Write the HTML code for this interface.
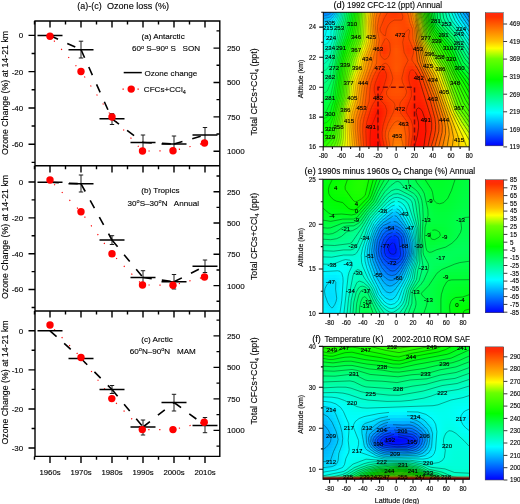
<!DOCTYPE html>
<html><head><meta charset="utf-8"><title>figure</title>
<style>
html,body{margin:0;padding:0;background:#fff}
#w{position:relative;width:520px;height:504px;overflow:hidden;background:#fff;font-family:"Liberation Sans",sans-serif}
.f{position:absolute;overflow:hidden}
.f i{display:block;width:100%}
.cb{position:absolute;background:linear-gradient(180deg,#ff2a10 0%,#ff3000 3%,#ffbf00 21%,#ffff00 26.5%,#6aff00 34.5%,#00ff00 50%,#00ffff 75%,#0000ff 100%)}
svg text{font-family:"Liberation Sans",sans-serif;stroke:#000;stroke-width:.22px;stroke-opacity:.55}
</style></head><body><div id="w">
<div class="f" style="left:323px;top:12px;width:146px;height:135px"><i style="height:3px;background:linear-gradient(90deg,#0080ff,#0089ff,#009eff,#00caff,#00ffe7,#00ff98,#00ff5b,#00ff22,#17ff00,#4bff00,#9fff00,#ffed00,#ffad00,#ff8100,#ff6100,#ff4c00,#ff4100,#ff3900,#ff3700,#ff3f00,#ff4d00,#ff5f00,#ff8800,#ffd200,#98ff00,#44ff00,#0fff00,#00ff2f,#00ff5e,#00ff82,#00ffa6,#00ffc8,#00ffea,#00e7ff,#00c3ff,#00a2ff,#0083ff)"></i><i style="height:3px;background:linear-gradient(90deg,#009bff,#00a2ff,#00b6ff,#00e2ff,#00ffd9,#00ff91,#00ff55,#00ff1a,#1cff00,#4eff00,#a7ff00,#ffe600,#ffa700,#ff7a00,#ff5b00,#ff4600,#ff3f00,#ff3b00,#ff3b00,#ff3f00,#ff4800,#ff5a00,#ff8100,#ffc500,#b7ff00,#4cff00,#15ff00,#00ff29,#00ff5d,#00ff82,#00ffa2,#00ffc1,#00ffe1,#00f3ff,#00d1ff,#00b1ff,#0093ff)"></i><i style="height:3px;background:linear-gradient(90deg,#00b6ff,#00bdff,#00d0ff,#00faff,#00ffc8,#00ff89,#00ff4e,#00ff14,#1fff00,#50ff00,#abff00,#ffe300,#ffa400,#ff7600,#ff5600,#ff4300,#ff4000,#ff4100,#ff4300,#ff4300,#ff4700,#ff5600,#ff7b00,#ffb800,#d5ff00,#55ff00,#1dff00,#00ff20,#00ff58,#00ff7d,#00ff9b,#00ffb8,#00ffd6,#00fffd,#00e1ff,#00c2ff,#00a3ff)"></i><i style="height:3px;background:linear-gradient(90deg,#00ceff,#00d6ff,#00e9ff,#00ffec,#00ffb5,#00ff7d,#00ff46,#00ff0e,#22ff00,#52ff00,#adff00,#ffe200,#ffa200,#ff7300,#ff5200,#ff4100,#ff4200,#ff4700,#ff4a00,#ff4700,#ff4700,#ff5100,#ff7200,#ffac00,#f2ff00,#60ff00,#26ff00,#00ff12,#00ff4c,#00ff72,#00ff90,#00ffac,#00ffc8,#00ffee,#00f1ff,#00d2ff,#00b3ff)"></i><i style="height:3px;background:linear-gradient(90deg,#00e3ff,#00eeff,#00fffd,#00ffd6,#00ffa3,#00ff70,#00ff3d,#00ff07,#26ff00,#54ff00,#aeff00,#ffe300,#ffa200,#ff7100,#ff4e00,#ff4000,#ff4400,#ff4b00,#ff4d00,#ff4a00,#ff4700,#ff4c00,#ff6600,#ff9f00,#fff600,#6aff00,#31ff00,#00ff00,#00ff38,#00ff60,#00ff80,#00ff9c,#00ffb8,#00ffdc,#00fffb,#00e3ff,#00c3ff)"></i><i style="height:3px;background:linear-gradient(90deg,#00efff,#00feff,#00ffeb,#00ffc5,#00ff93,#00ff63,#00ff32,#02ff00,#2aff00,#56ff00,#aeff00,#ffe600,#ffa400,#ff7100,#ff4a00,#ff3f00,#ff4700,#ff4d00,#ff4f00,#ff4b00,#ff4700,#ff4600,#ff5a00,#ff9400,#ffe800,#83ff00,#3cff00,#0eff00,#00ff21,#00ff4a,#00ff6b,#00ff89,#00ffa5,#00ffca,#00ffe9,#00f4ff,#00d3ff)"></i><i style="height:3px;background:linear-gradient(90deg,#00f6ff,#00fffa,#00ffe4,#00ffbd,#00ff8b,#00ff59,#00ff27,#09ff00,#2fff00,#58ff00,#aeff00,#ffe900,#ffa900,#ff7500,#ff4c00,#ff4000,#ff4900,#ff4f00,#ff5000,#ff4c00,#ff4600,#ff4300,#ff5500,#ff8c00,#ffdc00,#99ff00,#47ff00,#1cff00,#00ff0a,#00ff32,#00ff54,#00ff73,#00ff91,#00ffb7,#00ffd7,#00fff9,#00e3ff)"></i><i style="height:3px;background:linear-gradient(90deg,#00faff,#00fff9,#00ffe3,#00ffba,#00ff86,#00ff50,#00ff1d,#10ff00,#35ff00,#5cff00,#b0ff00,#ffec00,#ffae00,#ff7b00,#ff5400,#ff4300,#ff4800,#ff4f00,#ff5100,#ff4b00,#ff4400,#ff4300,#ff5600,#ff8800,#ffd200,#acff00,#51ff00,#2aff00,#0aff00,#00ff19,#00ff3c,#00ff5d,#00ff7c,#00ffa4,#00ffc6,#00ffe9,#00f3ff)"></i><i style="height:3px;background:linear-gradient(90deg,#00feff,#00fff8,#00ffe4,#00ffb6,#00ff7e,#00ff46,#00ff11,#17ff00,#3bff00,#60ff00,#b7ff00,#ffec00,#ffb100,#ff8000,#ff5a00,#ff4500,#ff4700,#ff4d00,#ff4f00,#ff4a00,#ff4300,#ff4300,#ff5700,#ff8400,#ffc700,#c4ff00,#5dff00,#38ff00,#1aff00,#00ff01,#00ff25,#00ff47,#00ff68,#00ff92,#00ffb5,#00ffd8,#00fffa)"></i><i style="height:3px;background:linear-gradient(90deg,#00fff8,#00fff1,#00ffdb,#00ffad,#00ff73,#00ff39,#00ff03,#20ff00,#43ff00,#67ff00,#c4ff00,#ffe700,#ffaf00,#ff8100,#ff5b00,#ff4400,#ff4400,#ff4b00,#ff4e00,#ff4900,#ff4200,#ff4200,#ff5400,#ff7d00,#ffb900,#e8ff00,#6eff00,#48ff00,#2aff00,#0fff00,#00ff0f,#00ff32,#00ff55,#00ff82,#00ffa5,#00ffc8,#00ffe9)"></i><i style="height:3px;background:linear-gradient(90deg,#00ffed,#00ffe7,#00ffd0,#00ffa1,#00ff65,#00ff29,#08ff00,#2aff00,#4bff00,#76ff00,#d6ff00,#ffdd00,#ffaa00,#ff7e00,#ff5900,#ff4000,#ff4100,#ff4a00,#ff4e00,#ff4a00,#ff4100,#ff3f00,#ff4d00,#ff7200,#ffaa00,#fff400,#9aff00,#57ff00,#38ff00,#1dff00,#04ff00,#00ff1e,#00ff42,#00ff71,#00ff95,#00ffb7,#00ffd8)"></i><i style="height:3px;background:linear-gradient(90deg,#00ffe0,#00ffdb,#00ffc5,#00ff94,#00ff55,#00ff19,#12ff00,#34ff00,#55ff00,#8dff00,#ecff00,#ffd100,#ffa200,#ff7a00,#ff5300,#ff3900,#ff3e00,#ff4a00,#ff5100,#ff4c00,#ff4100,#ff3b00,#ff4500,#ff6600,#ff9a00,#ffdd00,#c2ff00,#65ff00,#46ff00,#2aff00,#11ff00,#00ff0b,#00ff31,#00ff5f,#00ff84,#00ffa7,#00ffc8)"></i><i style="height:3px;background:linear-gradient(90deg,#00ffd3,#00ffd0,#00ffba,#00ff89,#00ff48,#00ff0b,#1cff00,#3dff00,#5eff00,#a7ff00,#fffb00,#ffc200,#ff9900,#ff7300,#ff4c00,#ff3300,#ff3c00,#ff4c00,#ff5500,#ff4e00,#ff4200,#ff3800,#ff3e00,#ff5d00,#ff8e00,#ffc900,#e4ff00,#7fff00,#52ff00,#36ff00,#1cff00,#04ff00,#00ff20,#00ff50,#00ff74,#00ff97,#00ffb7)"></i><i style="height:3px;background:linear-gradient(90deg,#00ffcc,#00ffc8,#00ffb1,#00ff7f,#00ff3f,#00ff00,#25ff00,#47ff00,#68ff00,#c2ff00,#ffea00,#ffb600,#ff8f00,#ff6b00,#ff4800,#ff3400,#ff3e00,#ff4d00,#ff5500,#ff5000,#ff4400,#ff3a00,#ff3e00,#ff5900,#ff8600,#ffbb00,#fffe00,#9dff00,#5dff00,#40ff00,#27ff00,#0eff00,#00ff12,#00ff42,#00ff66,#00ff88,#00ffa8)"></i><i style="height:3px;background:linear-gradient(90deg,#00ffc9,#00ffc4,#00ffab,#00ff77,#00ff36,#07ff00,#2eff00,#51ff00,#80ff00,#ddff00,#ffda00,#ffa900,#ff8500,#ff6600,#ff4b00,#ff3c00,#ff4200,#ff4d00,#ff5400,#ff5000,#ff4700,#ff3f00,#ff4200,#ff5900,#ff8000,#ffb100,#ffee00,#baff00,#68ff00,#4bff00,#31ff00,#17ff00,#00ff04,#00ff35,#00ff59,#00ff7a,#00ff98)"></i><i style="height:3px;background:linear-gradient(90deg,#00ffc5,#00ffbd,#00ffa3,#00ff6e,#00ff2c,#10ff00,#38ff00,#5aff00,#98ff00,#f3ff00,#ffcc00,#ff9f00,#ff7e00,#ff6300,#ff4e00,#ff4300,#ff4600,#ff4e00,#ff5300,#ff5100,#ff4900,#ff4300,#ff4500,#ff5800,#ff7b00,#ffa800,#ffde00,#d8ff00,#84ff00,#57ff00,#3cff00,#22ff00,#06ff00,#00ff29,#00ff4d,#00ff6c,#00ff88)"></i><i style="height:3px;background:linear-gradient(90deg,#00ffbd,#00ffb3,#00ff97,#00ff64,#00ff21,#18ff00,#41ff00,#63ff00,#abff00,#fffc00,#ffc200,#ff9900,#ff7900,#ff6200,#ff5100,#ff4600,#ff4800,#ff4f00,#ff5400,#ff5100,#ff4a00,#ff4400,#ff4400,#ff5400,#ff7400,#ff9f00,#ffcf00,#f6ff00,#a8ff00,#65ff00,#49ff00,#2cff00,#0fff00,#00ff1e,#00ff41,#00ff5d,#00ff77)"></i><i style="height:3px;background:linear-gradient(90deg,#00ffb2,#00ffa7,#00ff8c,#00ff5b,#00ff18,#20ff00,#49ff00,#69ff00,#b9ff00,#fff400,#ffbc00,#ff9400,#ff7500,#ff5f00,#ff5000,#ff4300,#ff4600,#ff4f00,#ff5500,#ff5200,#ff4800,#ff3f00,#ff3e00,#ff4c00,#ff6b00,#ff9400,#ffc000,#fff100,#ceff00,#84ff00,#57ff00,#37ff00,#18ff00,#00ff13,#00ff36,#00ff4f,#00ff66)"></i><i style="height:3px;background:linear-gradient(90deg,#00ffa7,#00ff9d,#00ff84,#00ff54,#00ff12,#24ff00,#4eff00,#78ff00,#c8ff00,#ffeb00,#ffb500,#ff8e00,#ff6f00,#ff5800,#ff4900,#ff3900,#ff4100,#ff4e00,#ff5600,#ff5100,#ff4500,#ff3900,#ff3500,#ff4200,#ff5f00,#ff8700,#ffb100,#ffdc00,#f3ff00,#acff00,#64ff00,#43ff00,#22ff00,#00ff07,#00ff29,#00ff41,#00ff55)"></i><i style="height:3px;background:linear-gradient(90deg,#00ff9b,#00ff94,#00ff7d,#00ff4e,#00ff0d,#27ff00,#52ff00,#88ff00,#ddff00,#ffdf00,#ffad00,#ff8600,#ff6600,#ff4d00,#ff3700,#ff2d00,#ff3b00,#ff4b00,#ff5600,#ff4f00,#ff4200,#ff3400,#ff2c00,#ff3700,#ff5200,#ff7700,#ffa000,#ffc600,#fff200,#ccff00,#77ff00,#4dff00,#2cff00,#06ff00,#00ff19,#00ff32,#00ff48)"></i><i style="height:3px;background:linear-gradient(90deg,#00ff90,#00ff8e,#00ff79,#00ff4a,#00ff08,#2bff00,#57ff00,#9cff00,#f6ff00,#ffcf00,#ffa200,#ff7c00,#ff5c00,#ff4100,#ff2c00,#ff2800,#ff3600,#ff4700,#ff5000,#ff4c00,#ff3f00,#ff3000,#ff2800,#ff2f00,#ff4600,#ff6800,#ff9000,#ffb600,#ffe100,#e4ff00,#90ff00,#57ff00,#37ff00,#13ff00,#00ff07,#00ff22,#00ff3a)"></i><i style="height:3px;background:linear-gradient(90deg,#00ff89,#00ff8a,#00ff77,#00ff45,#00ff02,#2fff00,#5dff00,#b3ff00,#fff500,#ffc000,#ff9800,#ff7200,#ff5200,#ff3900,#ff2800,#ff2700,#ff3500,#ff4400,#ff4c00,#ff4900,#ff3d00,#ff2f00,#ff2500,#ff2800,#ff3b00,#ff5b00,#ff8200,#ffa900,#ffd200,#faff00,#a7ff00,#61ff00,#42ff00,#1fff00,#07ff00,#00ff12,#00ff2c)"></i><i style="height:3px;background:linear-gradient(90deg,#00ff87,#00ff84,#00ff6f,#00ff3d,#03ff00,#35ff00,#64ff00,#c9ff00,#ffe700,#ffb500,#ff8e00,#ff6a00,#ff4a00,#ff3300,#ff2600,#ff2900,#ff3500,#ff4300,#ff4a00,#ff4800,#ff3d00,#ff2f00,#ff2500,#ff2400,#ff3300,#ff5000,#ff7500,#ff9d00,#ffc400,#fff500,#bdff00,#6aff00,#4cff00,#2aff00,#12ff00,#00ff03,#00ff1e)"></i><i style="height:3px;background:linear-gradient(90deg,#00ff82,#00ff7c,#00ff64,#00ff35,#08ff00,#39ff00,#6bff00,#daff00,#ffdc00,#ffac00,#ff8500,#ff6200,#ff4400,#ff2e00,#ff2400,#ff2b00,#ff3900,#ff4500,#ff4b00,#ff4900,#ff3f00,#ff3100,#ff2500,#ff2200,#ff2e00,#ff4800,#ff6b00,#ff9100,#ffb800,#ffe800,#d2ff00,#80ff00,#55ff00,#34ff00,#1cff00,#08ff00,#00ff10)"></i><i style="height:3px;background:linear-gradient(90deg,#00ff7c,#00ff73,#00ff5b,#00ff2d,#0cff00,#3dff00,#72ff00,#e4ff00,#ffd400,#ffa500,#ff7f00,#ff5c00,#ff3f00,#ff2b00,#ff2300,#ff2e00,#ff3e00,#ff4900,#ff4e00,#ff4c00,#ff4300,#ff3500,#ff2600,#ff2100,#ff2b00,#ff4100,#ff6000,#ff8500,#ffac00,#ffda00,#e7ff00,#96ff00,#5eff00,#3dff00,#26ff00,#11ff00,#00ff03)"></i><i style="height:3px;background:linear-gradient(90deg,#00ff75,#00ff6c,#00ff53,#00ff26,#10ff00,#3fff00,#75ff00,#e8ff00,#ffcf00,#ffa100,#ff7a00,#ff5800,#ff3d00,#ff2900,#ff2200,#ff3200,#ff4400,#ff4e00,#ff5100,#ff4f00,#ff4800,#ff3900,#ff2800,#ff2000,#ff2700,#ff3b00,#ff5700,#ff7a00,#ffa100,#ffcd00,#fbff00,#aaff00,#66ff00,#45ff00,#2eff00,#19ff00,#06ff00)"></i><i style="height:3px;background:linear-gradient(90deg,#00ff6c,#00ff65,#00ff4e,#00ff21,#13ff00,#41ff00,#79ff00,#ecff00,#ffcc00,#ff9d00,#ff7700,#ff5600,#ff3c00,#ff2a00,#ff2500,#ff3800,#ff4a00,#ff5000,#ff5200,#ff5100,#ff4b00,#ff3d00,#ff2900,#ff2000,#ff2500,#ff3500,#ff4f00,#ff6f00,#ff9600,#ffbf00,#fff400,#bfff00,#72ff00,#4dff00,#35ff00,#21ff00,#0eff00)"></i><i style="height:3px;background:linear-gradient(90deg,#00ff61,#00ff5e,#00ff4a,#00ff1c,#17ff00,#45ff00,#80ff00,#f2ff00,#ffc800,#ff9a00,#ff7400,#ff5400,#ff3c00,#ff2d00,#ff2b00,#ff3b00,#ff4900,#ff4f00,#ff5000,#ff4f00,#ff4900,#ff3c00,#ff2b00,#ff2100,#ff2300,#ff3000,#ff4700,#ff6500,#ff8a00,#ffb400,#ffe600,#d4ff00,#86ff00,#54ff00,#3cff00,#28ff00,#15ff00)"></i><i style="height:3px;background:linear-gradient(90deg,#00ff54,#00ff55,#00ff44,#00ff14,#1cff00,#4aff00,#8dff00,#fcff00,#ffc300,#ff9700,#ff7200,#ff5300,#ff3c00,#ff2f00,#ff2e00,#ff3900,#ff4500,#ff4a00,#ff4c00,#ff4b00,#ff4500,#ff3800,#ff2a00,#ff2000,#ff2100,#ff2c00,#ff4000,#ff5c00,#ff8000,#ffa800,#ffd800,#eaff00,#9aff00,#5aff00,#43ff00,#2fff00,#1dff00)"></i><i style="height:3px;background:linear-gradient(90deg,#00ff47,#00ff48,#00ff36,#00ff09,#24ff00,#52ff00,#a0ff00,#fff700,#ffbc00,#ff9300,#ff6f00,#ff5000,#ff3a00,#ff2e00,#ff2c00,#ff3500,#ff3f00,#ff4500,#ff4700,#ff4600,#ff3f00,#ff3400,#ff2700,#ff1f00,#ff1f00,#ff2800,#ff3a00,#ff5400,#ff7600,#ff9e00,#ffca00,#ffff00,#adff00,#61ff00,#49ff00,#36ff00,#24ff00)"></i><i style="height:3px;background:linear-gradient(90deg,#00ff42,#00ff3e,#00ff29,#03ff00,#2dff00,#5bff00,#b9ff00,#ffea00,#ffb500,#ff8e00,#ff6b00,#ff4d00,#ff3600,#ff2900,#ff2700,#ff2f00,#ff3900,#ff4200,#ff4600,#ff4400,#ff3b00,#ff2f00,#ff2300,#ff1c00,#ff1c00,#ff2400,#ff3400,#ff4d00,#ff6e00,#ff9400,#ffbd00,#fff200,#c1ff00,#67ff00,#50ff00,#3dff00,#2cff00)"></i><i style="height:3px;background:linear-gradient(90deg,#00ff3f,#00ff38,#00ff1f,#0bff00,#36ff00,#66ff00,#d4ff00,#ffdc00,#ffac00,#ff8700,#ff6600,#ff4800,#ff3000,#ff2300,#ff2000,#ff2a00,#ff3500,#ff4000,#ff4600,#ff4400,#ff3800,#ff2b00,#ff2000,#ff1900,#ff1900,#ff2000,#ff3000,#ff4700,#ff6600,#ff8b00,#ffb300,#ffe400,#d6ff00,#75ff00,#57ff00,#45ff00,#35ff00)"></i><i style="height:3px;background:linear-gradient(90deg,#00ff3b,#00ff33,#00ff19,#11ff00,#3eff00,#77ff00,#eeff00,#ffce00,#ffa200,#ff7f00,#ff5f00,#ff4100,#ff2b00,#ff1c00,#ff1a00,#ff2600,#ff3300,#ff4000,#ff4700,#ff4400,#ff3600,#ff2800,#ff1e00,#ff1700,#ff1600,#ff1d00,#ff2b00,#ff4200,#ff5f00,#ff8200,#ffa900,#ffd600,#eeff00,#8eff00,#60ff00,#4eff00,#3dff00)"></i><i style="height:3px;background:linear-gradient(90deg,#00ff35,#00ff2e,#00ff13,#17ff00,#45ff00,#89ff00,#ffff00,#ffc200,#ff9900,#ff7600,#ff5600,#ff3b00,#ff2500,#ff1900,#ff1700,#ff2500,#ff3300,#ff4100,#ff4900,#ff4500,#ff3500,#ff2800,#ff1e00,#ff1600,#ff1400,#ff1a00,#ff2700,#ff3d00,#ff5900,#ff7a00,#ff9f00,#ffc800,#fffa00,#aaff00,#6bff00,#57ff00,#47ff00)"></i><i style="height:3px;background:linear-gradient(90deg,#00ff2a,#00ff23,#00ff09,#1eff00,#4bff00,#96ff00,#fff700,#ffba00,#ff9200,#ff6e00,#ff4f00,#ff3500,#ff2100,#ff1700,#ff1800,#ff2600,#ff3700,#ff4600,#ff4e00,#ff4900,#ff3c00,#ff2d00,#ff2100,#ff1700,#ff1400,#ff1700,#ff2400,#ff3800,#ff5300,#ff7200,#ff9600,#ffbb00,#ffea00,#c7ff00,#88ff00,#62ff00,#50ff00)"></i><i style="height:3px;background:linear-gradient(90deg,#00ff1b,#00ff13,#05ff00,#26ff00,#51ff00,#a2ff00,#fff000,#ffb500,#ff8c00,#ff6800,#ff4900,#ff3000,#ff1e00,#ff1600,#ff1900,#ff2a00,#ff3c00,#ff4c00,#ff5400,#ff5100,#ff4500,#ff3500,#ff2500,#ff1900,#ff1400,#ff1600,#ff2100,#ff3400,#ff4e00,#ff6c00,#ff8e00,#ffb100,#ffdb00,#e2ff00,#a5ff00,#6fff00,#5aff00)"></i><i style="height:3px;background:linear-gradient(90deg,#00ff0b,#00ff03,#0eff00,#2eff00,#57ff00,#acff00,#ffec00,#ffb200,#ff8800,#ff6300,#ff4400,#ff2c00,#ff1b00,#ff1500,#ff1b00,#ff2e00,#ff4100,#ff5200,#ff5b00,#ff5a00,#ff4f00,#ff3d00,#ff2b00,#ff1c00,#ff1400,#ff1500,#ff1f00,#ff3200,#ff4a00,#ff6700,#ff8700,#ffa900,#ffce00,#fbff00,#c0ff00,#8aff00,#64ff00)"></i><i style="height:3px;background:linear-gradient(90deg,#02ff00,#06ff00,#15ff00,#34ff00,#5cff00,#b3ff00,#ffeb00,#ffb100,#ff8600,#ff6100,#ff4100,#ff2800,#ff1800,#ff1400,#ff1c00,#ff3300,#ff4800,#ff5900,#ff6200,#ff6200,#ff5800,#ff4400,#ff2f00,#ff1e00,#ff1400,#ff1400,#ff1e00,#ff3100,#ff4900,#ff6500,#ff8300,#ffa300,#ffc300,#fff300,#d9ff00,#a5ff00,#74ff00)"></i><i style="height:3px;background:linear-gradient(90deg,#06ff00,#09ff00,#18ff00,#37ff00,#5fff00,#b6ff00,#ffeb00,#ffb200,#ff8700,#ff6000,#ff3f00,#ff2600,#ff1600,#ff1100,#ff1c00,#ff3700,#ff4e00,#ff6000,#ff6800,#ff6700,#ff5c00,#ff4800,#ff3100,#ff1e00,#ff1300,#ff1400,#ff1e00,#ff3100,#ff4800,#ff6400,#ff8000,#ff9e00,#ffbb00,#ffe600,#f1ff00,#beff00,#8fff00)"></i><i style="height:3px;background:linear-gradient(90deg,#08ff00,#0cff00,#1bff00,#3aff00,#60ff00,#b6ff00,#ffed00,#ffb400,#ff8800,#ff6100,#ff3f00,#ff2500,#ff1400,#ff1000,#ff1c00,#ff3b00,#ff5500,#ff6600,#ff6d00,#ff6b00,#ff5f00,#ff4a00,#ff3200,#ff1e00,#ff1200,#ff1300,#ff1f00,#ff3200,#ff4a00,#ff6400,#ff8000,#ff9b00,#ffb600,#ffdb00,#fffa00,#d6ff00,#a8ff00)"></i><i style="height:3px;background:linear-gradient(90deg,#0bff00,#11ff00,#21ff00,#3eff00,#61ff00,#b6ff00,#ffef00,#ffb700,#ff8b00,#ff6300,#ff4000,#ff2400,#ff1300,#ff1000,#ff1d00,#ff3e00,#ff5b00,#ff6c00,#ff7000,#ff6e00,#ff6200,#ff4b00,#ff3200,#ff1d00,#ff1100,#ff1300,#ff2000,#ff3400,#ff4d00,#ff6700,#ff8100,#ff9a00,#ffb200,#ffd200,#ffef00,#ecff00,#c0ff00)"></i><i style="height:3px;background:linear-gradient(90deg,#10ff00,#18ff00,#28ff00,#43ff00,#64ff00,#b8ff00,#fff100,#ffba00,#ff8e00,#ff6500,#ff4100,#ff2400,#ff1300,#ff1000,#ff1c00,#ff3d00,#ff5c00,#ff6f00,#ff7300,#ff7100,#ff6400,#ff4b00,#ff3000,#ff1a00,#ff1100,#ff1400,#ff2300,#ff3800,#ff5100,#ff6b00,#ff8400,#ff9b00,#ffb000,#ffcc00,#ffe500,#ffff00,#d6ff00)"></i><i style="height:3px;background:linear-gradient(90deg,#18ff00,#21ff00,#31ff00,#4aff00,#68ff00,#bdff00,#fff200,#ffbd00,#ff9200,#ff6800,#ff4300,#ff2500,#ff1200,#ff0e00,#ff1900,#ff3900,#ff5800,#ff6f00,#ff7800,#ff7600,#ff6600,#ff4a00,#ff2c00,#ff1700,#ff0f00,#ff1500,#ff2600,#ff3d00,#ff5600,#ff7000,#ff8700,#ff9d00,#ffb100,#ffc800,#ffdf00,#fff600,#e8ff00)"></i><i style="height:3px;background:linear-gradient(90deg,#21ff00,#2bff00,#3bff00,#52ff00,#74ff00,#c5ff00,#fff100,#ffc000,#ff9600,#ff6c00,#ff4500,#ff2500,#ff1100,#ff0b00,#ff1500,#ff3400,#ff5300,#ff6f00,#ff7d00,#ff7b00,#ff6800,#ff4800,#ff2800,#ff1400,#ff0e00,#ff1600,#ff2a00,#ff4300,#ff5c00,#ff7500,#ff8c00,#ffa100,#ffb300,#ffc800,#ffdc00,#fff000,#f8ff00)"></i><i style="height:3px;background:linear-gradient(90deg,#2aff00,#35ff00,#45ff00,#5aff00,#85ff00,#d1ff00,#ffef00,#ffc300,#ff9a00,#ff6f00,#ff4700,#ff2700,#ff1200,#ff0900,#ff1100,#ff2f00,#ff4f00,#ff7000,#ff8400,#ff8000,#ff6900,#ff4500,#ff2300,#ff1100,#ff0d00,#ff1800,#ff2e00,#ff4900,#ff6200,#ff7a00,#ff9000,#ffa400,#ffb500,#ffca00,#ffdb00,#ffeb00,#fffb00)"></i></div><div class="f" style="left:323px;top:179px;width:147px;height:134px"><i style="height:3px;background:linear-gradient(90deg,#00ff14,#00ff0c,#00ff03,#03ff00,#06ff00,#0aff00,#10ff00,#16ff00,#1cff00,#20ff00,#20ff00,#18ff00,#0aff00,#00ff0b,#00ff29,#00ff44,#00ff5b,#00ff6e,#00ff7a,#00ff7d,#00ff79,#00ff6d,#00ff5d,#00ff50,#00ff43,#00ff38,#00ff31,#00ff2c,#00ff2a,#00ff29,#00ff29,#00ff2b,#00ff2e,#00ff32,#00ff36,#00ff3a,#00ff3e,#00ff41)"></i><i style="height:3px;background:linear-gradient(90deg,#00ff11,#00ff09,#01ff00,#07ff00,#0aff00,#0dff00,#12ff00,#17ff00,#1dff00,#21ff00,#1fff00,#16ff00,#07ff00,#00ff12,#00ff31,#00ff4d,#00ff65,#00ff77,#00ff82,#00ff83,#00ff7b,#00ff6d,#00ff60,#00ff54,#00ff48,#00ff3d,#00ff34,#00ff2f,#00ff2b,#00ff2a,#00ff2a,#00ff2c,#00ff2f,#00ff33,#00ff37,#00ff3b,#00ff3f,#00ff42)"></i><i style="height:3px;background:linear-gradient(90deg,#00ff0e,#00ff06,#03ff00,#0aff00,#0dff00,#0fff00,#13ff00,#18ff00,#1dff00,#20ff00,#1eff00,#14ff00,#03ff00,#00ff1c,#00ff3c,#00ff59,#00ff71,#00ff82,#00ff8c,#00ff8c,#00ff81,#00ff71,#00ff66,#00ff5c,#00ff50,#00ff43,#00ff39,#00ff31,#00ff2d,#00ff2b,#00ff2b,#00ff2d,#00ff30,#00ff34,#00ff38,#00ff3c,#00ff40,#00ff42)"></i><i style="height:3px;background:linear-gradient(90deg,#00ff0c,#00ff04,#04ff00,#0bff00,#0eff00,#0fff00,#13ff00,#18ff00,#1dff00,#1fff00,#1cff00,#11ff00,#00ff03,#00ff26,#00ff4a,#00ff67,#00ff7e,#00ff8f,#00ff99,#00ff98,#00ff8e,#00ff7e,#00ff73,#00ff67,#00ff59,#00ff4a,#00ff3d,#00ff34,#00ff2f,#00ff2d,#00ff2d,#00ff2e,#00ff31,#00ff35,#00ff39,#00ff3d,#00ff40,#00ff43)"></i><i style="height:3px;background:linear-gradient(90deg,#00ff0b,#00ff04,#03ff00,#09ff00,#0bff00,#0dff00,#11ff00,#16ff00,#1bff00,#1dff00,#1bff00,#0fff00,#00ff09,#00ff31,#00ff57,#00ff75,#00ff8d,#00ff9f,#00ffa9,#00ffa9,#00ff9f,#00ff92,#00ff85,#00ff75,#00ff63,#00ff51,#00ff42,#00ff36,#00ff30,#00ff2e,#00ff2e,#00ff2f,#00ff32,#00ff36,#00ff3a,#00ff3e,#00ff41,#00ff44)"></i><i style="height:3px;background:linear-gradient(90deg,#00ff0c,#00ff05,#01ff00,#05ff00,#08ff00,#09ff00,#0dff00,#13ff00,#18ff00,#1aff00,#17ff00,#0bff00,#00ff12,#00ff3b,#00ff63,#00ff83,#00ff9d,#00ffb1,#00ffbc,#00ffbc,#00ffb3,#00ffa7,#00ff98,#00ff85,#00ff6e,#00ff58,#00ff45,#00ff37,#00ff31,#00ff2f,#00ff2f,#00ff30,#00ff33,#00ff37,#00ff3b,#00ff3f,#00ff43,#00ff45)"></i><i style="height:3px;background:linear-gradient(90deg,#00ff0e,#00ff08,#00ff01,#02ff00,#04ff00,#04ff00,#08ff00,#10ff00,#15ff00,#16ff00,#10ff00,#03ff00,#00ff1f,#00ff48,#00ff70,#00ff92,#00ffaf,#00ffc4,#00ffd1,#00ffd1,#00ffc7,#00ffba,#00ffab,#00ff93,#00ff77,#00ff5d,#00ff47,#00ff38,#00ff31,#00ff30,#00ff30,#00ff32,#00ff34,#00ff38,#00ff3c,#00ff40,#00ff44,#00ff46)"></i><i style="height:3px;background:linear-gradient(90deg,#00ff10,#00ff0b,#00ff05,#00ff01,#00ff00,#01ff00,#05ff00,#0cff00,#11ff00,#10ff00,#06ff00,#00ff0f,#00ff31,#00ff59,#00ff80,#00ffa4,#00ffc1,#00ffd8,#00ffe6,#00ffe5,#00ffd9,#00ffca,#00ffb8,#00ff9d,#00ff7e,#00ff61,#00ff49,#00ff39,#00ff33,#00ff31,#00ff32,#00ff33,#00ff36,#00ff39,#00ff3d,#00ff41,#00ff45,#00ff47)"></i><i style="height:3px;background:linear-gradient(90deg,#00ff14,#00ff0f,#00ff09,#00ff06,#00ff04,#00ff02,#03ff00,#09ff00,#0dff00,#08ff00,#00ff08,#00ff25,#00ff48,#00ff6e,#00ff94,#00ffb7,#00ffd5,#00ffed,#00fff9,#00fff7,#00ffe8,#00ffd5,#00ffbe,#00ffa2,#00ff82,#00ff65,#00ff4d,#00ff3d,#00ff36,#00ff33,#00ff34,#00ff35,#00ff38,#00ff3b,#00ff3f,#00ff43,#00ff46,#00ff48)"></i><i style="height:3px;background:linear-gradient(90deg,#00ff18,#00ff13,#00ff0d,#00ff0a,#00ff08,#00ff06,#00ff01,#04ff00,#06ff00,#00ff02,#00ff1c,#00ff3d,#00ff61,#00ff86,#00ffaa,#00ffcc,#00ffeb,#00fbff,#00efff,#00f5ff,#00fff6,#00ffde,#00ffc3,#00ffa4,#00ff84,#00ff67,#00ff50,#00ff41,#00ff39,#00ff36,#00ff36,#00ff37,#00ff3a,#00ff3d,#00ff41,#00ff44,#00ff47,#00ff49)"></i><i style="height:3px;background:linear-gradient(90deg,#00ff1d,#00ff18,#00ff12,#00ff0f,#00ff0e,#00ff0d,#00ff09,#00ff03,#00ff03,#00ff12,#00ff31,#00ff56,#00ff7c,#00ff9f,#00ffc2,#00ffe2,#00fdff,#00e4ff,#00d7ff,#00e1ff,#00fbff,#00ffe6,#00ffc8,#00ffa7,#00ff85,#00ff68,#00ff52,#00ff43,#00ff3c,#00ff39,#00ff38,#00ff39,#00ff3c,#00ff3f,#00ff43,#00ff46,#00ff49,#00ff4a)"></i><i style="height:3px;background:linear-gradient(90deg,#00ff23,#00ff1d,#00ff18,#00ff16,#00ff17,#00ff17,#00ff14,#00ff11,#00ff13,#00ff24,#00ff46,#00ff70,#00ff96,#00ffb9,#00ffdb,#00fffb,#00e6ff,#00cdff,#00c0ff,#00cdff,#00eeff,#00fff0,#00ffd0,#00ffac,#00ff87,#00ff69,#00ff52,#00ff45,#00ff3e,#00ff3b,#00ff3b,#00ff3c,#00ff3e,#00ff42,#00ff45,#00ff49,#00ff4a,#00ff4b)"></i><i style="height:3px;background:linear-gradient(90deg,#00ff29,#00ff24,#00ff20,#00ff20,#00ff22,#00ff24,#00ff23,#00ff21,#00ff24,#00ff37,#00ff5b,#00ff86,#00ffae,#00ffd2,#00fff4,#00eaff,#00cfff,#00baff,#00b0ff,#00beff,#00deff,#00fffd,#00ffd9,#00ffb3,#00ff8c,#00ff6a,#00ff52,#00ff45,#00ff3f,#00ff3d,#00ff3c,#00ff3d,#00ff40,#00ff44,#00ff48,#00ff4b,#00ff4c,#00ff4c)"></i><i style="height:3px;background:linear-gradient(90deg,#00ff31,#00ff2d,#00ff2b,#00ff2c,#00ff30,#00ff34,#00ff35,#00ff34,#00ff37,#00ff4a,#00ff6e,#00ff99,#00ffc2,#00ffe9,#00f1ff,#00d2ff,#00b9ff,#00a9ff,#00a3ff,#00b0ff,#00ceff,#00f2ff,#00ffe5,#00ffbb,#00ff90,#00ff6a,#00ff4f,#00ff43,#00ff40,#00ff3e,#00ff3d,#00ff3e,#00ff41,#00ff45,#00ff49,#00ff4d,#00ff4d,#00ff4d)"></i><i style="height:3px;background:linear-gradient(90deg,#00ff3a,#00ff37,#00ff37,#00ff3a,#00ff40,#00ff47,#00ff4a,#00ff4a,#00ff4e,#00ff60,#00ff81,#00ffaa,#00ffd4,#00fffe,#00d9ff,#00b9ff,#00a4ff,#0098ff,#0095ff,#00a1ff,#00bcff,#00e2ff,#00fff3,#00ffc6,#00ff95,#00ff69,#00ff4c,#00ff40,#00ff3e,#00ff3e,#00ff3d,#00ff3e,#00ff41,#00ff45,#00ff4a,#00ff4d,#00ff4e,#00ff4e)"></i><i style="height:3px;background:linear-gradient(90deg,#00ff43,#00ff42,#00ff43,#00ff48,#00ff50,#00ff5b,#00ff61,#00ff61,#00ff64,#00ff75,#00ff93,#00ffba,#00ffe6,#00ecff,#00c1ff,#009fff,#008fff,#0087ff,#0083ff,#008eff,#00a9ff,#00d0ff,#00fcff,#00ffd3,#00ff9b,#00ff65,#00ff46,#00ff3c,#00ff3a,#00ff3a,#00ff3b,#00ff3d,#00ff41,#00ff45,#00ff4a,#00ff4d,#00ff4e,#00ff4e)"></i><i style="height:3px;background:linear-gradient(90deg,#00ff4f,#00ff4d,#00ff4e,#00ff55,#00ff5f,#00ff6c,#00ff74,#00ff74,#00ff78,#00ff87,#00ffa3,#00ffc9,#00fff6,#00d9ff,#00acff,#0089ff,#0079ff,#0072ff,#006cff,#0077ff,#0094ff,#00bdff,#00ebff,#00ffe1,#00ffa1,#00ff63,#00ff41,#00ff37,#00ff35,#00ff36,#00ff38,#00ff3b,#00ff40,#00ff45,#00ff49,#00ff4d,#00ff4e,#00ff4f)"></i><i style="height:3px;background:linear-gradient(90deg,#00ff5b,#00ff59,#00ff5a,#00ff60,#00ff6a,#00ff76,#00ff7e,#00ff80,#00ff86,#00ff95,#00ffaf,#00ffd5,#00faff,#00c8ff,#009bff,#0077ff,#0064ff,#0059ff,#0052ff,#005eff,#007dff,#00a9ff,#00daff,#00ffeb,#00ffa4,#00ff64,#00ff40,#00ff34,#00ff32,#00ff33,#00ff35,#00ff39,#00ff3f,#00ff45,#00ff4a,#00ff4d,#00ff4f,#00ff50)"></i><i style="height:3px;background:linear-gradient(90deg,#00ff69,#00ff67,#00ff67,#00ff6c,#00ff74,#00ff7d,#00ff84,#00ff89,#00ff90,#00ff9f,#00ffb8,#00ffde,#00edff,#00b9ff,#008cff,#0068ff,#0051ff,#0042ff,#003bff,#0047ff,#0067ff,#0096ff,#00cdff,#00fff0,#00ffa3,#00ff62,#00ff3f,#00ff32,#00ff30,#00ff32,#00ff34,#00ff39,#00ff3f,#00ff45,#00ff4b,#00ff4e,#00ff50,#00ff51)"></i><i style="height:3px;background:linear-gradient(90deg,#00ff77,#00ff75,#00ff75,#00ff78,#00ff7d,#00ff84,#00ff89,#00ff8e,#00ff97,#00ffa8,#00ffc0,#00ffe8,#00e1ff,#00abff,#007eff,#005bff,#0042ff,#0030ff,#0029ff,#0037ff,#0059ff,#0088ff,#00c0ff,#00fff7,#00ffa3,#00ff60,#00ff3f,#00ff33,#00ff31,#00ff33,#00ff35,#00ff3a,#00ff41,#00ff47,#00ff4c,#00ff50,#00ff52,#00ff52)"></i><i style="height:3px;background:linear-gradient(90deg,#00ff84,#00ff83,#00ff82,#00ff84,#00ff88,#00ff8c,#00ff8f,#00ff94,#00ff9d,#00ffb0,#00ffcc,#00fff4,#00d5ff,#009fff,#0072ff,#0050ff,#0035ff,#0024ff,#0020ff,#0030ff,#0053ff,#0080ff,#00b4ff,#00fbff,#00ffaa,#00ff63,#00ff41,#00ff35,#00ff34,#00ff37,#00ff39,#00ff3e,#00ff45,#00ff4b,#00ff4f,#00ff52,#00ff54,#00ff54)"></i><i style="height:3px;background:linear-gradient(90deg,#00ff92,#00ff90,#00ff8f,#00ff90,#00ff93,#00ff96,#00ff97,#00ff99,#00ffa3,#00ffb9,#00ffd8,#00fdff,#00cbff,#0097ff,#006aff,#0047ff,#002cff,#001cff,#001bff,#002fff,#0053ff,#007bff,#00abff,#00f1ff,#00ffb3,#00ff69,#00ff44,#00ff39,#00ff39,#00ff3d,#00ff40,#00ff44,#00ff4a,#00ff4f,#00ff52,#00ff55,#00ff56,#00ff56)"></i><i style="height:3px;background:linear-gradient(90deg,#00ff9f,#00ff9e,#00ff9c,#00ff9c,#00ff9f,#00ffa1,#00ffa2,#00ffa2,#00ffab,#00ffc2,#00ffe2,#00f4ff,#00c3ff,#0092ff,#0065ff,#0042ff,#0026ff,#0015ff,#0016ff,#002cff,#0050ff,#0076ff,#00a7ff,#00f0ff,#00ffb4,#00ff6b,#00ff47,#00ff3f,#00ff41,#00ff45,#00ff47,#00ff4b,#00ff4f,#00ff53,#00ff56,#00ff57,#00ff58,#00ff58)"></i><i style="height:3px;background:linear-gradient(90deg,#00ffac,#00ffab,#00ffaa,#00ffaa,#00ffac,#00ffaf,#00ffaf,#00ffaf,#00ffb7,#00ffcb,#00ffe9,#00edff,#00bfff,#008fff,#0062ff,#003fff,#0023ff,#0012ff,#0013ff,#0028ff,#0049ff,#006fff,#00a4ff,#00f3ff,#00ffb0,#00ff6a,#00ff4b,#00ff46,#00ff49,#00ff4d,#00ff4f,#00ff51,#00ff54,#00ff57,#00ff58,#00ff58,#00ff58,#00ff59)"></i><i style="height:3px;background:linear-gradient(90deg,#00ffb9,#00ffb8,#00ffb7,#00ffb8,#00ffbb,#00ffbe,#00ffbf,#00ffbf,#00ffc4,#00ffd3,#00ffee,#00eaff,#00beff,#008fff,#0063ff,#0040ff,#0025ff,#0015ff,#0016ff,#0026ff,#0044ff,#006cff,#00a4ff,#00f6ff,#00ffac,#00ff6a,#00ff50,#00ff4d,#00ff51,#00ff55,#00ff57,#00ff57,#00ff57,#00ff58,#00ff58,#00ff58,#00ff57,#00ff57)"></i><i style="height:3px;background:linear-gradient(90deg,#00ffc6,#00ffc5,#00ffc4,#00ffc6,#00ffc9,#00ffcd,#00ffcf,#00ffce,#00ffcf,#00ffd8,#00fff0,#00eaff,#00c0ff,#0093ff,#0068ff,#0046ff,#002dff,#0020ff,#001eff,#0028ff,#0046ff,#0072ff,#00acff,#00fdff,#00ffa9,#00ff6f,#00ff58,#00ff53,#00ff56,#00ff5b,#00ff5d,#00ff5b,#00ff59,#00ff57,#00ff56,#00ff55,#00ff55,#00ff54)"></i><i style="height:3px;background:linear-gradient(90deg,#00ffd1,#00ffd0,#00ffd0,#00ffd2,#00ffd7,#00ffdc,#00ffdf,#00ffdb,#00ffd7,#00ffda,#00ffef,#00edff,#00c4ff,#009aff,#0072ff,#0051ff,#003aff,#002fff,#002bff,#0032ff,#004fff,#0080ff,#00bdff,#00fff5,#00ffa8,#00ff77,#00ff61,#00ff59,#00ff5a,#00ff5f,#00ff60,#00ff5c,#00ff58,#00ff55,#00ff53,#00ff52,#00ff51,#00ff50)"></i><i style="height:3px;background:linear-gradient(90deg,#00ffdb,#00ffdb,#00ffda,#00ffdd,#00ffe3,#00ffea,#00ffee,#00ffe7,#00ffdd,#00ffdb,#00ffed,#00f1ff,#00cbff,#00a3ff,#007dff,#005eff,#004aff,#0041ff,#003dff,#0043ff,#0061ff,#0093ff,#00d1ff,#00ffe7,#00ffa7,#00ff7e,#00ff68,#00ff5e,#00ff5c,#00ff5d,#00ff5d,#00ff59,#00ff55,#00ff51,#00ff4f,#00ff4e,#00ff4d,#00ff4c)"></i><i style="height:3px;background:linear-gradient(90deg,#00ffe6,#00ffe6,#00ffe5,#00ffe7,#00ffed,#00fff4,#00fff7,#00ffed,#00ffde,#00ffda,#00ffe9,#00f7ff,#00d2ff,#00acff,#0089ff,#006cff,#0058ff,#004eff,#004bff,#0056ff,#0076ff,#00a7ff,#00e4ff,#00ffd8,#00ffa3,#00ff81,#00ff6c,#00ff60,#00ff5b,#00ff59,#00ff57,#00ff54,#00ff50,#00ff4d,#00ff4b,#00ff49,#00ff49,#00ff48)"></i><i style="height:3px;background:linear-gradient(90deg,#00fff1,#00fff1,#00fff0,#00fff2,#00fff6,#00fff9,#00fff7,#00ffea,#00ffd9,#00ffd5,#00ffe3,#00feff,#00dbff,#00b7ff,#0095ff,#0079ff,#0065ff,#0058ff,#0056ff,#0067ff,#0089ff,#00baff,#00f7ff,#00ffc8,#00ff9a,#00ff80,#00ff6d,#00ff60,#00ff58,#00ff54,#00ff51,#00ff4d,#00ff4a,#00ff48,#00ff46,#00ff45,#00ff45,#00ff45)"></i><i style="height:3px;background:linear-gradient(90deg,#00fffb,#00fffc,#00fffc,#00fffd,#00fffe,#00fffb,#00fff3,#00ffe3,#00ffd0,#00ffca,#00ffda,#00fff7,#00e4ff,#00c1ff,#00a0ff,#0085ff,#0071ff,#0064ff,#0064ff,#0078ff,#009bff,#00ccff,#00fff7,#00ffbb,#00ff92,#00ff7c,#00ff6b,#00ff5e,#00ff55,#00ff4f,#00ff4b,#00ff47,#00ff44,#00ff42,#00ff41,#00ff41,#00ff41,#00ff41)"></i><i style="height:3px;background:linear-gradient(90deg,#00fbff,#00f9ff,#00f8ff,#00f7ff,#00f9ff,#00fffd,#00ffef,#00ffdc,#00ffc8,#00ffc0,#00ffd0,#00ffed,#00eeff,#00cbff,#00acff,#0092ff,#007fff,#0074ff,#0075ff,#0089ff,#00acff,#00dbff,#00ffec,#00ffb6,#00ff8f,#00ff78,#00ff67,#00ff5a,#00ff51,#00ff49,#00ff45,#00ff40,#00ff3e,#00ff3d,#00ff3d,#00ff3d,#00ff3d,#00ff3e)"></i><i style="height:3px;background:linear-gradient(90deg,#00f5ff,#00f2ff,#00efff,#00eeff,#00f2ff,#00ffff,#00ffed,#00ffd7,#00ffc3,#00ffbc,#00ffc8,#00ffe3,#00f9ff,#00d6ff,#00b8ff,#009fff,#008dff,#0084ff,#0087ff,#0099ff,#00bcff,#00e9ff,#00ffe4,#00ffb3,#00ff8c,#00ff73,#00ff62,#00ff56,#00ff4c,#00ff44,#00ff3f,#00ff3a,#00ff38,#00ff38,#00ff38,#00ff38,#00ff39,#00ff39)"></i><i style="height:3px;background:linear-gradient(90deg,#00f0ff,#00ecff,#00e9ff,#00e8ff,#00edff,#00fdff,#00ffeb,#00ffd5,#00ffc1,#00ffb7,#00ffbf,#00ffd7,#00fff9,#00e2ff,#00c4ff,#00acff,#009bff,#0094ff,#0098ff,#00abff,#00cdff,#00f7ff,#00ffd9,#00ffac,#00ff86,#00ff6d,#00ff5d,#00ff51,#00ff48,#00ff41,#00ff3b,#00ff36,#00ff34,#00ff34,#00ff34,#00ff34,#00ff34,#00ff34)"></i><i style="height:3px;background:linear-gradient(90deg,#00ecff,#00e8ff,#00e5ff,#00e5ff,#00ecff,#00fdff,#00ffea,#00ffd2,#00ffbc,#00ffaf,#00ffb2,#00ffc6,#00ffe9,#00f0ff,#00d0ff,#00b8ff,#00a8ff,#00a3ff,#00a9ff,#00bdff,#00deff,#00fff6,#00ffca,#00ff9e,#00ff7c,#00ff65,#00ff57,#00ff4d,#00ff45,#00ff3e,#00ff39,#00ff34,#00ff31,#00ff30,#00ff2f,#00ff2f,#00ff2f,#00ff2e)"></i><i style="height:3px;background:linear-gradient(90deg,#00e9ff,#00e5ff,#00e2ff,#00e4ff,#00edff,#00ffff,#00ffe8,#00ffcf,#00ffb6,#00ffa4,#00ff9f,#00ffaf,#00ffd4,#00fffe,#00ddff,#00c3ff,#00b4ff,#00b0ff,#00b8ff,#00ceff,#00efff,#00ffe5,#00ffb6,#00ff8b,#00ff6d,#00ff5c,#00ff51,#00ff49,#00ff42,#00ff3b,#00ff37,#00ff32,#00ff2e,#00ff2c,#00ff2b,#00ff2a,#00ff2a,#00ff29)"></i><i style="height:3px;background:linear-gradient(90deg,#00e8ff,#00e4ff,#00e1ff,#00e4ff,#00eeff,#00fffd,#00ffe6,#00ffcb,#00ffaf,#00ff97,#00ff8a,#00ff95,#00ffbd,#00ffee,#00e8ff,#00cdff,#00bfff,#00bcff,#00c5ff,#00dcff,#00feff,#00ffd4,#00ffa3,#00ff76,#00ff5e,#00ff53,#00ff4c,#00ff46,#00ff40,#00ff3a,#00ff35,#00ff30,#00ff2c,#00ff29,#00ff27,#00ff26,#00ff25,#00ff24)"></i><i style="height:3px;background:linear-gradient(90deg,#00e7ff,#00e3ff,#00e0ff,#00e3ff,#00efff,#00fffc,#00ffe3,#00ffc7,#00ffa7,#00ff8b,#00ff78,#00ff7f,#00ffaa,#00ffe0,#00f1ff,#00d7ff,#00c9ff,#00c7ff,#00d1ff,#00e8ff,#00fff4,#00ffc7,#00ff94,#00ff67,#00ff52,#00ff4d,#00ff49,#00ff45,#00ff3f,#00ff38,#00ff34,#00ff2e,#00ff29,#00ff25,#00ff23,#00ff22,#00ff20,#00ff1f)"></i><i style="height:3px;background:linear-gradient(90deg,#00e8ff,#00e3ff,#00deff,#00e1ff,#00eeff,#00fffb,#00ffe0,#00ffc1,#00ffa0,#00ff82,#00ff6e,#00ff73,#00ff9a,#00ffd1,#00fdff,#00e2ff,#00d4ff,#00d1ff,#00dbff,#00f1ff,#00ffeb,#00ffbe,#00ff8e,#00ff64,#00ff51,#00ff4b,#00ff49,#00ff45,#00ff3f,#00ff38,#00ff32,#00ff2b,#00ff25,#00ff21,#00ff1f,#00ff1e,#00ff1c,#00ff1a)"></i><i style="height:3px;background:linear-gradient(90deg,#00ebff,#00e3ff,#00ddff,#00e0ff,#00edff,#00fffa,#00ffdd,#00ffbc,#00ff9a,#00ff7b,#00ff67,#00ff6a,#00ff8b,#00ffbe,#00ffee,#00f1ff,#00e0ff,#00dcff,#00e4ff,#00f8ff,#00ffe4,#00ffb8,#00ff8c,#00ff69,#00ff55,#00ff4e,#00ff4b,#00ff46,#00ff3f,#00ff38,#00ff32,#00ff29,#00ff22,#00ff1c,#00ff19,#00ff19,#00ff17,#00ff15)"></i><i style="height:3px;background:linear-gradient(90deg,#00edff,#00e6ff,#00dfff,#00e1ff,#00eeff,#00fff9,#00ffda,#00ffb7,#00ff94,#00ff75,#00ff60,#00ff5e,#00ff7c,#00ffaa,#00ffd8,#00fffc,#00edff,#00e8ff,#00efff,#00fffc,#00ffdc,#00ffb3,#00ff8c,#00ff6c,#00ff59,#00ff50,#00ff4d,#00ff48,#00ff40,#00ff38,#00ff31,#00ff27,#00ff1e,#00ff16,#00ff12,#00ff13,#00ff12,#00ff10)"></i><i style="height:3px;background:linear-gradient(90deg,#00f0ff,#00e8ff,#00e2ff,#00e4ff,#00f1ff,#00fff6,#00ffd7,#00ffb4,#00ff90,#00ff71,#00ff5a,#00ff56,#00ff6f,#00ff98,#00ffc3,#00ffe8,#00feff,#00f7ff,#00feff,#00ffee,#00ffcf,#00ffab,#00ff88,#00ff6d,#00ff5b,#00ff52,#00ff4d,#00ff48,#00ff41,#00ff38,#00ff31,#00ff26,#00ff1b,#00ff10,#00ff0a,#00ff0b,#00ff0b,#00ff0a)"></i><i style="height:3px;background:linear-gradient(90deg,#00f3ff,#00ebff,#00e5ff,#00e7ff,#00f4ff,#00fff3,#00ffd4,#00ffb1,#00ff8d,#00ff6d,#00ff57,#00ff53,#00ff66,#00ff89,#00ffaf,#00ffd2,#00ffea,#00fff5,#00ffef,#00ffdc,#00ffc0,#00ffa1,#00ff82,#00ff6b,#00ff5b,#00ff52,#00ff4c,#00ff47,#00ff41,#00ff39,#00ff31,#00ff26,#00ff19,#00ff0d,#00ff05,#00ff05,#00ff05,#00ff04)"></i><i style="height:3px;background:linear-gradient(90deg,#00f7ff,#00efff,#00e7ff,#00e9ff,#00f6ff,#00fff1,#00ffd2,#00ffaf,#00ff8b,#00ff6b,#00ff56,#00ff50,#00ff5f,#00ff7b,#00ff9d,#00ffbd,#00ffd4,#00ffe0,#00ffdb,#00ffca,#00ffb1,#00ff95,#00ff7a,#00ff66,#00ff59,#00ff50,#00ff4b,#00ff46,#00ff41,#00ff39,#00ff31,#00ff26,#00ff1a,#00ff0d,#00ff05,#00ff02,#00ff01,#00ff00)"></i><i style="height:2px;background:linear-gradient(90deg,#00fdff,#00f3ff,#00e9ff,#00ebff,#00f9ff,#00ffef,#00ffd0,#00ffad,#00ff8a,#00ff6a,#00ff55,#00ff4e,#00ff5a,#00ff72,#00ff90,#00ffac,#00ffc1,#00ffcc,#00ffc9,#00ffba,#00ffa4,#00ff8b,#00ff73,#00ff61,#00ff56,#00ff4e,#00ff4a,#00ff46,#00ff41,#00ff39,#00ff31,#00ff27,#00ff1b,#00ff0f,#00ff06,#00ff01,#01ff00,#03ff00)"></i></div><div class="f" style="left:323px;top:346px;width:147px;height:133px"><i style="height:3px;background:linear-gradient(90deg,#22ff00,#27ff00,#28ff00,#22ff00,#19ff00,#14ff00,#11ff00,#10ff00,#11ff00,#14ff00,#17ff00,#1cff00,#1fff00,#23ff00,#27ff00,#2bff00,#2eff00,#31ff00,#33ff00,#35ff00,#35ff00,#33ff00,#30ff00,#2cff00,#28ff00,#24ff00,#21ff00,#1dff00,#18ff00,#12ff00,#0cff00,#06ff00,#00ff01,#00ff0b,#00ff13,#00ff1a,#00ff22,#00ff29)"></i><i style="height:3px;background:linear-gradient(90deg,#16ff00,#1bff00,#1eff00,#18ff00,#10ff00,#0aff00,#06ff00,#06ff00,#07ff00,#0aff00,#0eff00,#12ff00,#15ff00,#18ff00,#1cff00,#1fff00,#23ff00,#26ff00,#29ff00,#2aff00,#29ff00,#26ff00,#22ff00,#1dff00,#1aff00,#16ff00,#13ff00,#10ff00,#0bff00,#07ff00,#02ff00,#00ff05,#00ff0e,#00ff17,#00ff1f,#00ff27,#00ff2f,#00ff35)"></i><i style="height:3px;background:linear-gradient(90deg,#08ff00,#0dff00,#0fff00,#0cff00,#05ff00,#00ff02,#00ff06,#00ff07,#00ff04,#00ff00,#04ff00,#08ff00,#0aff00,#0dff00,#10ff00,#13ff00,#17ff00,#1aff00,#1eff00,#1fff00,#1dff00,#19ff00,#13ff00,#0eff00,#0bff00,#08ff00,#05ff00,#01ff00,#00ff03,#00ff09,#00ff0e,#00ff14,#00ff1a,#00ff23,#00ff2b,#00ff33,#00ff3b,#00ff41)"></i><i style="height:3px;background:linear-gradient(90deg,#00ff0b,#00ff05,#00ff01,#00ff05,#00ff0c,#00ff13,#00ff17,#00ff17,#00ff14,#00ff0f,#00ff0a,#00ff05,#00ff02,#01ff00,#03ff00,#07ff00,#0aff00,#0eff00,#12ff00,#13ff00,#11ff00,#0bff00,#04ff00,#00ff01,#00ff05,#00ff09,#00ff0d,#00ff13,#00ff17,#00ff1b,#00ff20,#00ff24,#00ff28,#00ff30,#00ff38,#00ff40,#00ff48,#00ff4e)"></i><i style="height:3px;background:linear-gradient(90deg,#00ff22,#00ff1d,#00ff1a,#00ff1c,#00ff21,#00ff26,#00ff29,#00ff28,#00ff25,#00ff20,#00ff1b,#00ff17,#00ff14,#00ff11,#00ff0e,#00ff0a,#00ff04,#01ff00,#05ff00,#06ff00,#04ff00,#00ff03,#00ff0e,#00ff14,#00ff18,#00ff1c,#00ff20,#00ff25,#00ff29,#00ff2d,#00ff31,#00ff35,#00ff38,#00ff3e,#00ff46,#00ff4d,#00ff55,#00ff5b)"></i><i style="height:3px;background:linear-gradient(90deg,#00ff37,#00ff33,#00ff30,#00ff31,#00ff35,#00ff39,#00ff3b,#00ff3b,#00ff37,#00ff32,#00ff2d,#00ff29,#00ff26,#00ff24,#00ff22,#00ff1e,#00ff18,#00ff12,#00ff0e,#00ff0c,#00ff0f,#00ff17,#00ff1f,#00ff26,#00ff2a,#00ff2d,#00ff31,#00ff36,#00ff3a,#00ff3e,#00ff43,#00ff46,#00ff49,#00ff4d,#00ff54,#00ff5b,#00ff63,#00ff68)"></i><i style="height:3px;background:linear-gradient(90deg,#00ff49,#00ff46,#00ff45,#00ff45,#00ff48,#00ff4b,#00ff4d,#00ff4d,#00ff4a,#00ff45,#00ff3f,#00ff3b,#00ff38,#00ff36,#00ff34,#00ff31,#00ff2c,#00ff26,#00ff22,#00ff22,#00ff24,#00ff2a,#00ff31,#00ff36,#00ff3a,#00ff3d,#00ff40,#00ff45,#00ff4a,#00ff4e,#00ff53,#00ff56,#00ff59,#00ff5d,#00ff62,#00ff69,#00ff70,#00ff76)"></i><i style="height:3px;background:linear-gradient(90deg,#00ff5a,#00ff58,#00ff57,#00ff57,#00ff5a,#00ff5d,#00ff5f,#00ff60,#00ff5d,#00ff57,#00ff51,#00ff4c,#00ff49,#00ff47,#00ff46,#00ff43,#00ff3e,#00ff3a,#00ff36,#00ff36,#00ff38,#00ff3d,#00ff42,#00ff46,#00ff49,#00ff4b,#00ff4e,#00ff53,#00ff58,#00ff5d,#00ff62,#00ff65,#00ff68,#00ff6b,#00ff70,#00ff77,#00ff7e,#00ff83)"></i><i style="height:3px;background:linear-gradient(90deg,#00ff6a,#00ff68,#00ff68,#00ff68,#00ff6a,#00ff6d,#00ff70,#00ff71,#00ff6f,#00ff68,#00ff61,#00ff5b,#00ff58,#00ff56,#00ff55,#00ff53,#00ff50,#00ff4c,#00ff49,#00ff49,#00ff4b,#00ff4f,#00ff53,#00ff56,#00ff58,#00ff59,#00ff5c,#00ff61,#00ff66,#00ff6c,#00ff70,#00ff73,#00ff76,#00ff79,#00ff7e,#00ff84,#00ff8b,#00ff90)"></i><i style="height:3px;background:linear-gradient(90deg,#00ff78,#00ff77,#00ff77,#00ff77,#00ff79,#00ff7c,#00ff7f,#00ff80,#00ff7e,#00ff77,#00ff6f,#00ff69,#00ff66,#00ff65,#00ff64,#00ff62,#00ff5f,#00ff5c,#00ff5a,#00ff5a,#00ff5c,#00ff60,#00ff64,#00ff66,#00ff67,#00ff67,#00ff69,#00ff6f,#00ff75,#00ff7a,#00ff7f,#00ff82,#00ff84,#00ff87,#00ff8b,#00ff92,#00ff98,#00ff9e)"></i><i style="height:3px;background:linear-gradient(90deg,#00ff86,#00ff85,#00ff85,#00ff85,#00ff87,#00ff89,#00ff8c,#00ff8c,#00ff89,#00ff82,#00ff7a,#00ff75,#00ff72,#00ff71,#00ff71,#00ff70,#00ff6e,#00ff6b,#00ff69,#00ff69,#00ff6c,#00ff70,#00ff73,#00ff75,#00ff75,#00ff76,#00ff78,#00ff7d,#00ff83,#00ff89,#00ff8d,#00ff90,#00ff92,#00ff94,#00ff99,#00ff9f,#00ffa5,#00ffaa)"></i><i style="height:3px;background:linear-gradient(90deg,#00ff93,#00ff92,#00ff93,#00ff93,#00ff94,#00ff96,#00ff98,#00ff97,#00ff93,#00ff8c,#00ff85,#00ff80,#00ff7e,#00ff7e,#00ff7d,#00ff7d,#00ff7b,#00ff78,#00ff77,#00ff77,#00ff7a,#00ff7e,#00ff82,#00ff83,#00ff84,#00ff85,#00ff87,#00ff8c,#00ff91,#00ff97,#00ff9b,#00ff9e,#00ffa0,#00ffa2,#00ffa6,#00ffac,#00ffb2,#00ffb7)"></i><i style="height:3px;background:linear-gradient(90deg,#00ff9f,#00ff9f,#00ffa0,#00ffa1,#00ffa2,#00ffa3,#00ffa3,#00ffa2,#00ff9d,#00ff96,#00ff8f,#00ff8a,#00ff8a,#00ff89,#00ff89,#00ff88,#00ff87,#00ff84,#00ff83,#00ff83,#00ff86,#00ff8a,#00ff8e,#00ff90,#00ff91,#00ff93,#00ff95,#00ff9a,#00ff9f,#00ffa5,#00ffa9,#00ffac,#00ffae,#00ffb0,#00ffb4,#00ffb9,#00ffbe,#00ffc2)"></i><i style="height:3px;background:linear-gradient(90deg,#00ffac,#00ffad,#00ffae,#00ffaf,#00ffb0,#00ffb0,#00ffaf,#00ffac,#00ffa8,#00ffa1,#00ff9a,#00ff97,#00ff96,#00ff95,#00ff95,#00ff94,#00ff92,#00ff90,#00ff8f,#00ff8f,#00ff91,#00ff95,#00ff99,#00ff9b,#00ff9d,#00ffa0,#00ffa3,#00ffa7,#00ffad,#00ffb2,#00ffb6,#00ffb9,#00ffbb,#00ffbd,#00ffc0,#00ffc5,#00ffca,#00ffcd)"></i><i style="height:3px;background:linear-gradient(90deg,#00ffba,#00ffbb,#00ffbd,#00ffbe,#00ffbe,#00ffbd,#00ffbb,#00ffb7,#00ffb2,#00ffac,#00ffa7,#00ffa4,#00ffa3,#00ffa2,#00ffa1,#00ff9f,#00ff9d,#00ff9c,#00ff9a,#00ff9a,#00ff9d,#00ffa0,#00ffa4,#00ffa6,#00ffa9,#00ffac,#00ffaf,#00ffb4,#00ffb9,#00ffbe,#00ffc3,#00ffc6,#00ffc7,#00ffc9,#00ffcc,#00ffd0,#00ffd4,#00ffd7)"></i><i style="height:3px;background:linear-gradient(90deg,#00ffcb,#00ffcb,#00ffcc,#00ffcd,#00ffcc,#00ffca,#00ffc7,#00ffc2,#00ffbd,#00ffb8,#00ffb3,#00ffb1,#00ffaf,#00ffae,#00ffac,#00ffab,#00ffa9,#00ffa7,#00ffa7,#00ffa7,#00ffa8,#00ffab,#00ffae,#00ffb1,#00ffb4,#00ffb7,#00ffbb,#00ffbf,#00ffc4,#00ffc9,#00ffce,#00ffd0,#00ffd2,#00ffd4,#00ffd6,#00ffd9,#00ffdc,#00ffdf)"></i><i style="height:3px;background:linear-gradient(90deg,#00ffdd,#00ffdd,#00ffdd,#00ffdc,#00ffd9,#00ffd6,#00ffd2,#00ffcd,#00ffc8,#00ffc3,#00ffbf,#00ffbc,#00ffbb,#00ffb9,#00ffb8,#00ffb6,#00ffb5,#00ffb4,#00ffb3,#00ffb3,#00ffb5,#00ffb7,#00ffb9,#00ffbc,#00ffbf,#00ffc2,#00ffc5,#00ffc9,#00ffce,#00ffd2,#00ffd7,#00ffd9,#00ffdb,#00ffdd,#00ffde,#00ffe0,#00ffe3,#00ffe5)"></i><i style="height:3px;background:linear-gradient(90deg,#00ffef,#00ffee,#00ffec,#00ffea,#00ffe6,#00ffe1,#00ffdc,#00ffd7,#00ffd2,#00ffcd,#00ffca,#00ffc7,#00ffc6,#00ffc4,#00ffc3,#00ffc2,#00ffc1,#00ffc0,#00ffc0,#00ffc0,#00ffc1,#00ffc2,#00ffc5,#00ffc7,#00ffc9,#00ffcc,#00ffcf,#00ffd2,#00ffd6,#00ffda,#00ffdd,#00ffe0,#00ffe2,#00ffe4,#00ffe5,#00ffe7,#00ffe9,#00ffeb)"></i><i style="height:3px;background:linear-gradient(90deg,#00feff,#00fffe,#00fffc,#00fff7,#00fff1,#00ffeb,#00ffe5,#00ffe0,#00ffdb,#00ffd6,#00ffd3,#00ffd1,#00ffd0,#00ffcf,#00ffce,#00ffcd,#00ffcd,#00ffcc,#00ffcd,#00ffcd,#00ffcd,#00ffcf,#00ffd0,#00ffd2,#00ffd4,#00ffd6,#00ffd8,#00ffda,#00ffdd,#00ffe0,#00ffe3,#00ffe5,#00ffe7,#00ffea,#00ffeb,#00ffec,#00ffee,#00ffef)"></i><i style="height:3px;background:linear-gradient(90deg,#00efff,#00f1ff,#00f5ff,#00fbff,#00fffb,#00fff3,#00ffed,#00ffe7,#00ffe3,#00ffdf,#00ffdc,#00ffda,#00ffda,#00ffda,#00ffd9,#00ffd9,#00ffd9,#00ffd9,#00ffda,#00ffda,#00ffda,#00ffdb,#00ffdc,#00ffde,#00ffdf,#00ffe0,#00ffe1,#00ffe2,#00ffe3,#00ffe5,#00ffe7,#00ffe9,#00ffeb,#00ffee,#00fff0,#00fff1,#00fff3,#00fff4)"></i><i style="height:3px;background:linear-gradient(90deg,#00e1ff,#00e4ff,#00e9ff,#00f1ff,#00fbff,#00fffa,#00fff2,#00ffed,#00ffe9,#00ffe6,#00ffe4,#00ffe4,#00ffe4,#00ffe4,#00ffe5,#00ffe5,#00ffe6,#00ffe6,#00ffe7,#00ffe8,#00ffe8,#00ffe9,#00ffea,#00ffeb,#00ffeb,#00ffeb,#00ffea,#00ffe9,#00ffe9,#00ffe9,#00ffea,#00ffec,#00ffee,#00fff1,#00fff4,#00fff6,#00fff9,#00fffb)"></i><i style="height:3px;background:linear-gradient(90deg,#00d6ff,#00daff,#00e0ff,#00eaff,#00f5ff,#00ffff,#00fff7,#00fff2,#00ffef,#00ffed,#00ffec,#00ffed,#00ffee,#00fff0,#00fff1,#00fff3,#00fff4,#00fff5,#00fff6,#00fff7,#00fff8,#00fff8,#00fff9,#00fff9,#00fff8,#00fff6,#00fff3,#00fff0,#00ffee,#00ffed,#00ffed,#00ffee,#00fff0,#00fff3,#00fff7,#00fffb,#00ffff,#00fcff)"></i><i style="height:3px;background:linear-gradient(90deg,#00cdff,#00d2ff,#00d9ff,#00e4ff,#00f0ff,#00fcff,#00fffa,#00fff5,#00fff4,#00fff4,#00fff5,#00fff6,#00fff9,#00fffc,#00ffff,#00fdff,#00faff,#00f8ff,#00f7ff,#00f7ff,#00f5ff,#00f4ff,#00f4ff,#00f4ff,#00f7ff,#00fcff,#00fffc,#00fff7,#00fff3,#00fff0,#00ffef,#00ffef,#00fff1,#00fff4,#00fff9,#00ffff,#00f9ff,#00f5ff)"></i><i style="height:3px;background:linear-gradient(90deg,#00c5ff,#00cbff,#00d3ff,#00dfff,#00ecff,#00f8ff,#00fffd,#00fff9,#00fff8,#00fffa,#00fffe,#00fdff,#00faff,#00f5ff,#00f0ff,#00ebff,#00e6ff,#00e3ff,#00e3ff,#00e4ff,#00e1ff,#00dfff,#00dfff,#00e1ff,#00e7ff,#00efff,#00f8ff,#00fffe,#00fff8,#00fff3,#00fff0,#00ffef,#00fff1,#00fff4,#00fffa,#00fdff,#00f5ff,#00f0ff)"></i><i style="height:3px;background:linear-gradient(90deg,#00beff,#00c4ff,#00ceff,#00daff,#00e8ff,#00f5ff,#00ffff,#00fffb,#00fffc,#00fdff,#00f7ff,#00f2ff,#00eeff,#00e8ff,#00dfff,#00d5ff,#00cfff,#00cbff,#00cbff,#00cbff,#00c9ff,#00c7ff,#00c7ff,#00ccff,#00d6ff,#00e2ff,#00eeff,#00f9ff,#00fffc,#00fff5,#00fff0,#00ffee,#00ffef,#00fff3,#00fff9,#00fdff,#00f3ff,#00edff)"></i><i style="height:3px;background:linear-gradient(90deg,#00b7ff,#00beff,#00c8ff,#00d5ff,#00e4ff,#00f2ff,#00fdff,#00fffd,#00ffff,#00f7ff,#00edff,#00e6ff,#00e2ff,#00daff,#00ccff,#00bdff,#00b4ff,#00afff,#00aeff,#00afff,#00afff,#00aeff,#00adff,#00b5ff,#00c3ff,#00d3ff,#00e3ff,#00f1ff,#00fdff,#00fff7,#00fff0,#00ffed,#00ffed,#00fff1,#00fff7,#00feff,#00f5ff,#00efff)"></i><i style="height:3px;background:linear-gradient(90deg,#00b0ff,#00b8ff,#00c3ff,#00d1ff,#00e0ff,#00f0ff,#00fcff,#00fffe,#00fdff,#00f3ff,#00e5ff,#00d9ff,#00d6ff,#00cbff,#00b7ff,#00a4ff,#0097ff,#0092ff,#0091ff,#0092ff,#0096ff,#0095ff,#0095ff,#009fff,#00b0ff,#00c4ff,#00d7ff,#00e9ff,#00f8ff,#00fff9,#00fff0,#00ffeb,#00ffeb,#00ffee,#00fff4,#00fffc,#00faff,#00f4ff)"></i><i style="height:3px;background:linear-gradient(90deg,#00aaff,#00b2ff,#00bdff,#00ccff,#00dcff,#00edff,#00fbff,#00fffd,#00fdff,#00f1ff,#00e0ff,#00cfff,#00caff,#00bbff,#00a2ff,#0089ff,#007bff,#0074ff,#0073ff,#0076ff,#007eff,#007dff,#007eff,#0088ff,#009bff,#00b1ff,#00c9ff,#00dfff,#00f4ff,#00fffa,#00ffef,#00ffe9,#00ffe8,#00ffea,#00fff0,#00fff7,#00fffe,#00fbff)"></i><i style="height:3px;background:linear-gradient(90deg,#00a5ff,#00adff,#00b9ff,#00c7ff,#00d8ff,#00ebff,#00faff,#00fffc,#00ffff,#00f2ff,#00dfff,#00caff,#00b9ff,#00a5ff,#008dff,#0071ff,#005fff,#0056ff,#0055ff,#005bff,#0062ff,#0061ff,#0063ff,#006fff,#0084ff,#009dff,#00b9ff,#00d7ff,#00f0ff,#00fffb,#00ffee,#00ffe7,#00ffe5,#00ffe6,#00ffeb,#00fff1,#00fff8,#00fffc)"></i><i style="height:3px;background:linear-gradient(90deg,#00a1ff,#00aaff,#00b5ff,#00c3ff,#00d5ff,#00e9ff,#00faff,#00fffb,#00fffc,#00f6ff,#00e0ff,#00c5ff,#00a9ff,#008cff,#0072ff,#0056ff,#0043ff,#0037ff,#0032ff,#0034ff,#003cff,#0040ff,#0046ff,#0053ff,#006cff,#0089ff,#00abff,#00d0ff,#00efff,#00fffa,#00ffec,#00ffe4,#00ffe2,#00ffe3,#00ffe6,#00ffec,#00fff1,#00fff6)"></i><i style="height:3px;background:linear-gradient(90deg,#00a1ff,#00a8ff,#00b3ff,#00bfff,#00d1ff,#00e7ff,#00faff,#00fff8,#00fff8,#00faff,#00e4ff,#00c3ff,#009bff,#0074ff,#0053ff,#0037ff,#0028ff,#001dff,#0014ff,#0014ff,#001bff,#0021ff,#002bff,#0039ff,#0058ff,#007cff,#00a3ff,#00ceff,#00f0ff,#00fff8,#00ffea,#00ffe2,#00ffe0,#00ffe0,#00ffe3,#00ffe7,#00ffec,#00fff0)"></i><i style="height:3px;background:linear-gradient(90deg,#00a3ff,#00aaff,#00b3ff,#00bfff,#00d1ff,#00e7ff,#00fbff,#00fff7,#00fff6,#00feff,#00e9ff,#00c4ff,#0094ff,#0067ff,#003fff,#0023ff,#0015ff,#000dff,#0006ff,#0007ff,#000cff,#000fff,#0020ff,#002aff,#0050ff,#007aff,#00a2ff,#00d0ff,#00f3ff,#00fff6,#00ffe9,#00ffe1,#00ffdf,#00ffde,#00ffe0,#00ffe4,#00ffe8,#00ffec)"></i><i style="height:3px;background:linear-gradient(90deg,#00a7ff,#00adff,#00b6ff,#00c3ff,#00d4ff,#00e9ff,#00faff,#00fff9,#00fff8,#00feff,#00ebff,#00c9ff,#009cff,#006dff,#0046ff,#002aff,#001dff,#0015ff,#000fff,#000eff,#0012ff,#0017ff,#002aff,#003bff,#0059ff,#0082ff,#00a9ff,#00d4ff,#00f4ff,#00fff5,#00ffe9,#00ffe2,#00ffdf,#00ffde,#00ffde,#00ffe1,#00ffe5,#00ffe8)"></i><i style="height:3px;background:linear-gradient(90deg,#00adff,#00b2ff,#00bbff,#00c9ff,#00daff,#00ecff,#00faff,#00fffb,#00fffb,#00fdff,#00eeff,#00d4ff,#00afff,#0086ff,#0062ff,#0048ff,#003cff,#0035ff,#0030ff,#002eff,#0031ff,#0034ff,#0042ff,#0055ff,#006fff,#0091ff,#00b6ff,#00d9ff,#00f5ff,#00fff6,#00ffea,#00ffe4,#00ffe0,#00ffdd,#00ffdd,#00ffdf,#00ffe2,#00ffe5)"></i><i style="height:3px;background:linear-gradient(90deg,#00b3ff,#00b8ff,#00c1ff,#00ceff,#00dfff,#00efff,#00fbff,#00fffd,#00fffd,#00fdff,#00f4ff,#00e3ff,#00c8ff,#00a7ff,#0088ff,#0070ff,#0063ff,#0061ff,#0064ff,#0068ff,#0061ff,#0060ff,#0068ff,#0077ff,#008cff,#00a8ff,#00c6ff,#00e1ff,#00f8ff,#00fff5,#00ffeb,#00ffe4,#00ffe0,#00ffdd,#00ffdc,#00ffdd,#00ffe0,#00ffe3)"></i><i style="height:3px;background:linear-gradient(90deg,#00b8ff,#00bcff,#00c5ff,#00d3ff,#00e5ff,#00f3ff,#00fdff,#00fffd,#00fffd,#00fffe,#00fdff,#00f4ff,#00e3ff,#00c9ff,#00afff,#009aff,#0090ff,#0090ff,#0097ff,#0099ff,#0094ff,#0092ff,#0097ff,#00a0ff,#00adff,#00c1ff,#00d7ff,#00ebff,#00fdff,#00fff4,#00ffeb,#00ffe4,#00ffe0,#00ffdc,#00ffdb,#00ffdc,#00ffde,#00ffe1)"></i><i style="height:3px;background:linear-gradient(90deg,#00bdff,#00c0ff,#00c8ff,#00d6ff,#00e8ff,#00f6ff,#00ffff,#00fffb,#00fffa,#00fff9,#00fff7,#00fff9,#00fbff,#00eaff,#00d7ff,#00c6ff,#00bfff,#00c1ff,#00c6ff,#00c6ff,#00c4ff,#00c5ff,#00c9ff,#00ccff,#00d2ff,#00dcff,#00eaff,#00f6ff,#00fffc,#00fff2,#00ffea,#00ffe4,#00ffdf,#00ffdb,#00ffda,#00ffdb,#00ffdd,#00ffdf)"></i><i style="height:3px;background:linear-gradient(90deg,#00c3ff,#00c5ff,#00cbff,#00d8ff,#00e9ff,#00f7ff,#00fffd,#00fff7,#00fff4,#00fff1,#00ffec,#00ffe9,#00ffec,#00fff3,#00fffd,#00f7ff,#00f2ff,#00f5ff,#00f6ff,#00f5ff,#00f8ff,#00fbff,#00fcff,#00f9ff,#00f7ff,#00f9ff,#00fdff,#00fffb,#00fff5,#00ffef,#00ffe8,#00ffe3,#00ffde,#00ffda,#00ffd9,#00ffda,#00ffdc,#00ffdd)"></i><i style="height:3px;background:linear-gradient(90deg,#00ccff,#00ccff,#00d0ff,#00dbff,#00eaff,#00f8ff,#00fff9,#00fff1,#00ffec,#00ffe7,#00ffde,#00ffd6,#00ffd1,#00ffcf,#00ffcf,#00ffd1,#00ffd2,#00ffcf,#00ffcc,#00ffce,#00ffcb,#00ffca,#00ffce,#00ffd6,#00ffdf,#00ffe6,#00ffeb,#00ffed,#00ffed,#00ffe9,#00ffe4,#00ffe0,#00ffdd,#00ffda,#00ffd9,#00ffda,#00ffdb,#00ffdc)"></i><i style="height:3px;background:linear-gradient(90deg,#00d7ff,#00d7ff,#00daff,#00e3ff,#00eeff,#00faff,#00fff6,#00ffe9,#00ffdf,#00ffd6,#00ffc9,#00ffbb,#00ffb1,#00ffa6,#00ff9c,#00ff98,#00ff96,#00ff8e,#00ff84,#00ff82,#00ff85,#00ff8c,#00ff96,#00ffa4,#00ffb3,#00ffc3,#00ffd3,#00ffdd,#00ffe0,#00ffdf,#00ffdd,#00ffdb,#00ffda,#00ffd9,#00ffd9,#00ffd9,#00ffd9,#00ffda)"></i><i style="height:3px;background:linear-gradient(90deg,#00e5ff,#00e6ff,#00e9ff,#00efff,#00f7ff,#00fffe,#00ffef,#00ffdb,#00ffca,#00ffba,#00ffa8,#00ff96,#00ff87,#00ff74,#00ff63,#00ff5a,#00ff57,#00ff4b,#00ff36,#00ff32,#00ff3b,#00ff48,#00ff59,#00ff6c,#00ff80,#00ff9a,#00ffb6,#00ffc8,#00ffce,#00ffd0,#00ffd1,#00ffd3,#00ffd5,#00ffd7,#00ffd7,#00ffd7,#00ffd7,#00ffd7)"></i><i style="height:3px;background:linear-gradient(90deg,#00f5ff,#00f7ff,#00fbff,#00fffd,#00fff7,#00ffef,#00ffde,#00ffc5,#00ffad,#00ff95,#00ff7d,#00ff66,#00ff50,#00ff39,#00ff23,#00ff16,#00ff13,#00ff08,#0bff00,#10ff00,#0aff00,#00ff01,#00ff17,#00ff2e,#00ff43,#00ff64,#00ff8d,#00ffa7,#00ffaf,#00ffb8,#00ffbf,#00ffc6,#00ffcd,#00ffd2,#00ffd3,#00ffd3,#00ffd2,#00ffd2)"></i><i style="height:3px;background:linear-gradient(90deg,#00fff6,#00fff2,#00ffed,#00ffe6,#00ffdf,#00ffd5,#00ffc1,#00ffa6,#00ff88,#00ff6a,#00ff4d,#00ff30,#00ff13,#05ff00,#16ff00,#23ff00,#27ff00,#2dff00,#3aff00,#3eff00,#39ff00,#2fff00,#20ff00,#11ff00,#02ff00,#00ff21,#00ff4c,#00ff6d,#00ff82,#00ff96,#00ffa6,#00ffb4,#00ffc0,#00ffc8,#00ffca,#00ffca,#00ffcb,#00ffcb)"></i><i style="height:3px;background:linear-gradient(90deg,#00ffe1,#00ffdc,#00ffd4,#00ffcc,#00ffc2,#00ffb4,#00ff9f,#00ff82,#00ff61,#00ff3e,#00ff1c,#04ff00,#1aff00,#2fff00,#41ff00,#50ff00,#58ff00,#5eff00,#66ff00,#69ff00,#65ff00,#5cff00,#4eff00,#3fff00,#30ff00,#1aff00,#05ff00,#00ff1f,#00ff4a,#00ff6c,#00ff86,#00ff9a,#00ffac,#00ffb7,#00ffbb,#00ffbe,#00ffbf,#00ffc0)"></i><i style="height:1px;background:linear-gradient(90deg,#00ffd2,#00ffcb,#00ffc3,#00ffb9,#00ffad,#00ff9d,#00ff86,#00ff68,#00ff46,#00ff21,#02ff00,#1aff00,#32ff00,#48ff00,#5bff00,#6cff00,#86ff00,#97ff00,#a8ff00,#adff00,#a4ff00,#8cff00,#6aff00,#5cff00,#4cff00,#37ff00,#22ff00,#07ff00,#00ff25,#00ff4d,#00ff6d,#00ff85,#00ff99,#00ffa7,#00ffae,#00ffb2,#00ffb5,#00ffb7)"></i></div>
<div class="cb" style="left:485px;top:13px;width:18px;height:133px"></div><div class="cb" style="left:485px;top:180px;width:19px;height:133px"></div><div class="cb" style="left:485px;top:347px;width:19px;height:133px"></div>

<svg width="520" height="504" viewBox="0 0 520 504" style="position:absolute;left:0;top:0;will-change:transform" font-family="Liberation Sans, sans-serif" fill="#000">
<g stroke="#000" stroke-width="1.4" fill="none">
<path d="M35.0 21.0 H219.8 V456.4 H35.0 Z"/>
<path d="M35.0 165.8 H219.8 M35.0 311.0 H219.8"/>
<path d="M34.50 21.0v3.4M50.00 21.0v6.6M65.50 21.0v3.4M81.00 21.0v6.6M96.50 21.0v3.4M112.00 21.0v6.6M127.50 21.0v3.4M143.00 21.0v6.6M158.50 21.0v3.4M174.00 21.0v6.6M189.50 21.0v3.4M205.00 21.0v6.6M34.50 165.8v3.4M50.00 165.8v6.6M65.50 165.8v3.4M81.00 165.8v6.6M96.50 165.8v3.4M112.00 165.8v6.6M127.50 165.8v3.4M143.00 165.8v6.6M158.50 165.8v3.4M174.00 165.8v6.6M189.50 165.8v3.4M205.00 165.8v6.6M34.50 311.0v3.4M50.00 311.0v6.6M65.50 311.0v3.4M81.00 311.0v6.6M96.50 311.0v3.4M112.00 311.0v6.6M127.50 311.0v3.4M143.00 311.0v6.6M158.50 311.0v3.4M174.00 311.0v6.6M189.50 311.0v3.4M205.00 311.0v6.6M34.50 456.4v3.4M50.00 456.4v6.6M65.50 456.4v3.4M81.00 456.4v6.6M96.50 456.4v3.4M112.00 456.4v6.6M127.50 456.4v3.4M143.00 456.4v6.6M158.50 456.4v3.4M174.00 456.4v6.6M189.50 456.4v3.4M205.00 456.4v6.6"/>
</g>
<path d="M35.0 35.40h-6.5M35.0 71.67h-6.5M35.0 107.93h-6.5M35.0 144.20h-6.5M35.0 53.53h-3.4M35.0 89.80h-3.4M35.0 126.06h-3.4M35.0 162.33h-3.4M219.8 30.92h-3.3M219.8 48.10h-6.3M219.8 65.28h-3.3M219.8 82.47h-6.3M219.8 99.66h-3.3M219.8 116.84h-6.3M219.8 134.03h-3.3M219.8 151.21h-6.3M35.0 182.00h-6.5M35.0 217.84h-6.5M35.0 253.68h-6.5M35.0 289.52h-6.5M35.0 199.92h-3.4M35.0 235.76h-3.4M35.0 271.60h-3.4M35.0 307.44h-3.4M219.8 176.05h-3.3M219.8 191.70h-6.3M219.8 207.35h-3.3M219.8 223.00h-6.3M219.8 238.65h-3.3M219.8 254.30h-6.3M219.8 269.95h-3.3M219.8 285.60h-6.3M219.8 301.25h-3.3M35.0 330.75h-6.5M35.0 369.85h-6.5M35.0 408.95h-6.5M35.0 448.05h-6.5M35.0 350.30h-3.4M35.0 389.40h-3.4M35.0 428.50h-3.4M219.8 320.15h-3.3M219.8 335.90h-6.3M219.8 351.65h-3.3M219.8 367.40h-6.3M219.8 383.15h-3.3M219.8 398.90h-6.3M219.8 414.65h-3.3M219.8 430.40h-6.3M219.8 446.15h-3.3" stroke="#000" stroke-width="1.4" fill="none"/>
<g font-size="8"><text x="23.2" y="38.3" text-anchor="end">0</text><text x="23.2" y="74.6" text-anchor="end">-20</text><text x="23.2" y="110.8" text-anchor="end">-40</text><text x="23.2" y="147.1" text-anchor="end">-60</text><text x="226.9" y="51.0">250</text><text x="226.9" y="85.4">500</text><text x="226.9" y="119.7">750</text><text x="226.9" y="154.1">1000</text><text x="23.2" y="184.9" text-anchor="end">0</text><text x="23.2" y="220.7" text-anchor="end">-20</text><text x="23.2" y="256.6" text-anchor="end">-40</text><text x="23.2" y="292.4" text-anchor="end">-60</text><text x="226.9" y="194.6">250</text><text x="226.9" y="225.9">500</text><text x="226.9" y="257.2">750</text><text x="226.9" y="288.5">1000</text><text x="23.2" y="333.6" text-anchor="end">0</text><text x="23.2" y="372.8" text-anchor="end">-10</text><text x="23.2" y="411.8" text-anchor="end">-20</text><text x="23.2" y="450.9" text-anchor="end">-30</text><text x="226.9" y="338.8">250</text><text x="226.9" y="370.3">500</text><text x="226.9" y="401.8">750</text><text x="226.9" y="433.3">1000</text></g>
<g font-size="8.8" text-anchor="middle">
<text transform="translate(7.9 93.0) rotate(-90)">Ozone Change (%) at 14-21 km</text>
<text transform="translate(256.7 92.0) rotate(-90)">Total CFCs+CCl<tspan font-size="6" dy="1.9">4</tspan><tspan dy="-1.9"> (ppt)</tspan></text>
<text transform="translate(7.9 237.0) rotate(-90)">Ozone Change (%) at 14-21 km</text>
<text transform="translate(256.7 236.5) rotate(-90)">Total CFCs+CCl<tspan font-size="6" dy="1.9">4</tspan><tspan dy="-1.9"> (ppt)</tspan></text>
<text transform="translate(7.9 382.5) rotate(-90)">Ozone Change (%) at 14-21 km</text>
<text transform="translate(256.7 381.0) rotate(-90)">Total CFCs+CCl<tspan font-size="6" dy="1.9">4</tspan><tspan dy="-1.9"> (ppt)</tspan></text>
</g><g font-size="7.8" text-anchor="middle">
<text x="50.0" y="475.1">1960s</text>
<text x="81.0" y="475.1">1970s</text>
<text x="112.0" y="475.1">1980s</text>
<text x="143.0" y="475.1">1990s</text>
<text x="174.0" y="475.1">2000s</text>
<text x="205.0" y="475.1">2010s</text>
</g>
<text x="77.3" y="8.8" font-size="8.8" textLength="24.4" lengthAdjust="spacingAndGlyphs">(a)-(c)</text><text x="106.9" y="8.8" font-size="8.8" textLength="62.2" lengthAdjust="spacingAndGlyphs">Ozone loss (%)</text>
<g font-size="8.1" text-anchor="middle">
<text x="163.1" y="39.3">(a) Antarctic</text>
<text x="166" y="51.3" xml:space="preserve">60<tspan font-size="5.5" dy="-2.8">o</tspan><tspan dy="2.8"> S–90</tspan><tspan font-size="5.5" dy="-2.8">o</tspan><tspan dy="2.8"> S   SON</tspan></text>
<text x="160.4" y="193.3">(b) Tropics</text>
<text x="163.3" y="205.6" xml:space="preserve">30<tspan font-size="5.5" dy="-2.8">o</tspan><tspan dy="2.8">S–30</tspan><tspan font-size="5.5" dy="-2.8">o</tspan><tspan dy="2.8">N   Annual</tspan></text>
<text x="157" y="341.9">(c) Arctic</text>
<text x="162.8" y="354.1" xml:space="preserve">60<tspan font-size="5.5" dy="-2.8">o</tspan><tspan dy="2.8">N–90</tspan><tspan font-size="5.5" dy="-2.8">o</tspan><tspan dy="2.8">N   MAM</tspan></text>
</g>
<path d="M123.7 72.6H141.8" stroke="#000" stroke-width="1.5"/>
<text x="144.5" y="75.5" font-size="8.1">Ozone change</text>
<path d="M122.5 89.1H139" stroke="#f00" stroke-width="1.3" stroke-dasharray="1.3 6.2"/>
<circle cx="131.2" cy="89.1" r="3.7" fill="#f00"/>
<text x="143.8" y="92" font-size="8.1">CFCs+CCl<tspan font-size="5.5" dy="1.8">4</tspan></text>
<g stroke="#f00" stroke-width="1.15" stroke-dasharray="1.2 9.7" stroke-dashoffset="-6" fill="none"><path d="M50.0 36.2L81.0 71.5"/><path d="M81.0 71.5L112.0 117.0"/><path d="M112.0 117.0L142.5 151.0"/><path d="M142.5 151.0L173.0 150.8"/><path d="M173.0 150.8L204.5 143.0"/></g>
<g stroke="#000" stroke-width="1.6" stroke-dasharray="8.8 10.2" fill="none"><path d="M50.0 35.5L81.0 49.7"/><path d="M81.0 49.7L112.0 118.8"/><path d="M112.0 118.8L143.0 142.5"/><path d="M143.0 142.5L174.0 144.0"/><path d="M174.0 144.0L205.0 135.0"/></g>
<path d="M81.0 41.2V58.0M78.8 41.2h4.4M78.8 58.0h4.4M112.0 113.7V124.5M109.8 113.7h4.4M109.8 124.5h4.4M143.0 135.0V150.0M140.8 135.0h4.4M140.8 150.0h4.4M174.0 136.0V152.0M171.8 136.0h4.4M171.8 152.0h4.4M205.0 127.5V143.0M202.8 127.5h4.4M202.8 143.0h4.4" stroke="#111" stroke-width="0.95" fill="none"/>
<path d="M37.5 35.50h25M68.5 49.70h25M99.5 118.75h25M130.5 142.50h25M161.5 144.00h25M192.5 135.00h25" stroke="#000" stroke-width="1.5" fill="none"/>
<circle cx="50.0" cy="36.2" r="3.7" fill="#f00"/><circle cx="81.0" cy="71.5" r="3.7" fill="#f00"/><circle cx="112.0" cy="117.0" r="3.7" fill="#f00"/><circle cx="142.5" cy="151.0" r="3.7" fill="#f00"/><circle cx="173.0" cy="150.8" r="3.7" fill="#f00"/><circle cx="204.5" cy="143.0" r="3.7" fill="#f00"/>
<g stroke="#f00" stroke-width="1.15" stroke-dasharray="1.2 9.7" stroke-dashoffset="-6" fill="none"><path d="M50.0 180.0L81.0 211.8"/><path d="M81.0 211.8L112.0 253.8"/><path d="M112.0 253.8L142.5 285.0"/><path d="M142.5 285.0L173.0 285.2"/><path d="M173.0 285.2L204.5 277.0"/></g>
<g stroke="#000" stroke-width="1.6" stroke-dasharray="8.8 10.2" fill="none"><path d="M50.0 182.3L81.0 183.8"/><path d="M81.0 183.8L112.0 240.0"/><path d="M112.0 240.0L143.0 277.5"/><path d="M143.0 277.5L174.0 281.8"/><path d="M174.0 281.8L205.0 266.2"/></g>
<path d="M81.0 175.0V192.0M78.8 175.0h4.4M78.8 192.0h4.4M112.0 235.7V244.5M109.8 235.7h4.4M109.8 244.5h4.4M143.0 270.7V284.3M140.8 270.7h4.4M140.8 284.3h4.4M174.0 274.5V289.0M171.8 274.5h4.4M171.8 289.0h4.4M205.0 260.0V272.5M202.8 260.0h4.4M202.8 272.5h4.4" stroke="#111" stroke-width="0.95" fill="none"/>
<path d="M37.5 182.30h25M68.5 183.75h25M99.5 240.00h25M130.5 277.50h25M161.5 281.75h25M192.5 266.25h25" stroke="#000" stroke-width="1.5" fill="none"/>
<circle cx="50.0" cy="180.0" r="3.7" fill="#f00"/><circle cx="81.0" cy="211.8" r="3.7" fill="#f00"/><circle cx="112.0" cy="253.8" r="3.7" fill="#f00"/><circle cx="142.5" cy="285.0" r="3.7" fill="#f00"/><circle cx="173.0" cy="285.2" r="3.7" fill="#f00"/><circle cx="204.5" cy="277.0" r="3.7" fill="#f00"/>
<g stroke="#f00" stroke-width="1.15" stroke-dasharray="1.2 9.7" stroke-dashoffset="-6" fill="none"><path d="M50.0 325.0L81.0 357.5"/><path d="M81.0 357.5L111.8 398.6"/><path d="M111.8 398.6L142.3 429.6"/><path d="M142.3 429.6L173.0 429.6"/><path d="M173.0 429.6L204.2 422.2"/></g>
<g stroke="#000" stroke-width="1.6" stroke-dasharray="8.8 10.2" fill="none"><path d="M50.0 330.8L81.0 358.5"/><path d="M81.0 358.5L112.0 389.5"/><path d="M112.0 389.5L143.0 427.0"/><path d="M143.0 427.0L174.0 402.5"/><path d="M174.0 402.5L205.0 425.4"/></g>
<path d="M112.0 385.5V393.5M109.8 385.5h4.4M109.8 393.5h4.4M143.0 420.0V435.0M140.8 420.0h4.4M140.8 435.0h4.4M174.0 394.3V411.0M171.8 394.3h4.4M171.8 411.0h4.4M205.0 417.5V432.7M202.8 417.5h4.4M202.8 432.7h4.4" stroke="#111" stroke-width="0.95" fill="none"/>
<path d="M37.5 330.75h25M68.5 358.50h25M99.5 389.50h25M130.5 427.00h25M161.5 402.50h25M192.5 425.40h25" stroke="#000" stroke-width="1.5" fill="none"/>
<circle cx="50.0" cy="325.0" r="3.7" fill="#f00"/><circle cx="81.0" cy="357.5" r="3.7" fill="#f00"/><circle cx="111.8" cy="398.6" r="3.7" fill="#f00"/><circle cx="142.3" cy="429.6" r="3.7" fill="#f00"/><circle cx="173.0" cy="429.6" r="3.7" fill="#f00"/><circle cx="204.2" cy="422.2" r="3.7" fill="#f00"/>
<clipPath id="c1"><rect x="323.3" y="12.3" width="146.0" height="134.5"/></clipPath>
<clipPath id="c1a"><rect x="323.3" y="12.3" width="92.0" height="134.5"/></clipPath>
<clipPath id="c1b"><rect x="415.3" y="12.3" width="54.0" height="134.5"/></clipPath>
<path clip-path="url(#c1a)" d="M323.3 13.2 326.4 12.3M465.8 12.3 469.3 17.4M323.3 16.0 328.3 14.9 331.5 12.3M462.7 12.3 469.3 22.1M323.3 18.8 329.3 17.3 332.3 14.9 334.1 12.3M459.8 12.3 462.6 17.3 469.3 26.9M323.3 22.0 328.3 20.7 330.3 19.6 333.3 16.7 335.8 12.3M457.0 12.3 460.1 18.3 469.3 31.7M323.3 25.8 329.3 23.4 331.3 21.9 335.3 16.8 337.1 12.3M454.3 12.3 457.5 19.3 469.3 36.4M323.3 37.8 325.3 35.3 326.7 29.3 334.3 21.4 336.7 17.3 338.4 12.3M451.5 12.3 454.9 20.3 469.3 40.9M323.3 45.1 327.3 43.7 330.3 39.6 331.0 37.3 330.9 32.3 331.5 29.3 337.3 19.5 339.6 12.3M448.5 12.3 450.1 17.3 452.1 21.3 460.7 32.3 469.3 45.5M323.3 52.6 327.3 50.7 330.3 46.7 333.3 38.7 334.4 29.3 339.1 19.3 340.8 12.3M445.6 12.3 446.7 17.3 448.6 21.3 458.4 33.3 469.3 50.2M323.3 64.3 327.3 61.3 329.9 57.3 335.2 39.3 336.6 29.3 340.6 19.3 342.0 12.3M442.7 12.3 443.7 18.3 445.6 22.3 456.7 35.3 469.3 55.1M323.3 70.8 325.3 70.2 327.3 68.6 329.3 65.3 331.8 59.3 337.0 39.3 338.9 28.3 342.2 19.3 343.4 12.3M439.9 12.3 440.4 18.3 442.0 22.3 455.1 37.3 466.3 55.7 469.3 59.8M323.3 83.8 327.3 80.9 329.9 77.3 331.0 70.3 336.1 48.3 339.0 38.3 340.7 29.3 343.7 20.3 345.0 12.3M437.1 12.3 437.5 18.3 439.3 23.0 453.3 39.0 458.6 47.3 464.5 58.3 469.3 64.3M323.3 93.0 325.3 92.6 327.3 91.0 332.3 78.9 337.5 49.3 345.2 21.3 346.7 12.3M434.6 12.3 435.3 19.3 437.3 24.0 452.0 41.3 457.0 49.3 463.3 62.1 469.3 69.2M323.3 98.9 326.3 99.4 328.3 99.0 329.3 98.3 330.5 96.3 334.4 78.3 336.2 64.3 339.3 48.3 346.6 23.3 348.6 12.3M432.5 12.3 433.8 20.3 436.3 26.0 450.6 43.3 455.3 51.3 461.5 65.3 469.3 74.7M323.3 112.9 326.3 111.3 332.9 97.3 336.3 77.3 337.9 63.3 340.6 49.3 344.7 37.3 348.0 25.3 350.4 12.3M430.8 12.3 432.5 21.3 435.0 27.3 449.3 45.4 453.6 53.3 459.3 67.4 469.3 80.2M323.3 118.7 327.3 117.1 330.0 114.3 331.9 106.3 334.7 98.3 339.7 61.3 342.6 48.3 346.6 37.3 349.7 26.3 352.0 12.3M429.3 12.3 431.3 22.3 434.2 29.3 447.7 47.3 451.9 55.3 457.7 69.3 469.3 86.0M323.3 123.5 326.3 122.6 328.3 121.1 330.3 118.6 332.4 114.3 337.0 95.3 341.0 62.3 344.1 49.3 348.3 38.3 351.9 24.3 353.5 12.3M428.0 12.3 429.9 22.3 433.3 31.1 446.1 49.3 450.7 58.3 456.3 71.2 464.0 83.3 469.3 92.6M323.3 136.6 327.3 133.3 329.3 130.2 330.7 124.3 334.3 114.3 338.6 95.3 342.2 63.3 345.7 50.3 349.9 39.3 352.0 32.3 353.4 25.3 354.9 12.3M426.8 12.3 428.9 23.3 432.3 32.7 444.5 51.3 449.2 60.3 454.5 72.3 469.3 99.6M323.3 142.9 329.3 137.5 331.1 134.3 332.3 130.7 333.5 123.3 340.0 96.3 343.5 64.3 347.0 52.3 353.3 34.5 355.0 25.3 356.3 12.3M425.5 12.3 427.6 23.3 431.2 34.3 438.9 46.3 447.3 61.2 465.3 99.3 469.3 105.9M325.6 146.3 331.3 140.0 334.0 133.3 335.7 122.3 341.5 96.3 345.0 64.3 354.7 36.3 356.3 27.3 357.6 12.3M424.1 12.3 427.3 26.9 430.3 36.2 446.6 64.3 456.6 86.3 463.1 102.3 469.3 111.7M330.5 146.3 333.6 141.3 335.7 135.3 337.4 122.3 343.0 96.3 344.2 82.3 346.6 65.3 356.4 37.3 357.6 29.3 358.9 12.3M422.7 12.3 427.3 32.1 429.0 37.3 439.3 56.4 446.0 67.3 461.3 105.7 469.3 117.0M334.0 146.3 336.2 141.3 337.6 136.3 338.9 123.3 341.2 109.3 344.5 96.3 345.7 81.3 348.6 65.3 356.5 43.3 358.3 36.7 360.2 12.3M421.4 12.3 427.3 37.3 437.5 57.3 444.8 69.3 458.9 107.3 469.3 122.2M336.9 146.3 339.5 137.3 340.4 124.3 342.3 110.9 346.0 96.3 347.5 79.3 351.5 62.3 358.1 44.3 360.0 37.3 361.6 12.3M420.3 12.3 426.3 38.6 435.3 57.5 442.8 69.3 457.2 109.3 469.3 127.4M339.5 146.3 341.5 137.3 342.0 124.3 343.7 111.3 347.7 95.3 348.7 81.3 354.6 59.3 359.7 45.3 361.6 38.3 363.0 12.3M419.3 12.3 425.3 39.7 434.0 59.3 441.0 70.3 455.2 110.3 461.3 121.1 469.3 133.0M342.0 146.3 343.4 138.3 343.7 124.3 345.6 109.3 349.0 97.3 350.4 81.3 354.8 67.3 357.0 58.3 361.7 45.3 363.3 39.0 364.4 12.3M418.3 12.3 423.5 38.3 430.9 57.3 433.3 62.3 439.5 72.3 453.7 112.3 460.3 124.9 469.3 140.1M344.6 146.3 345.5 139.3 345.4 125.3 345.9 117.3 347.0 110.3 350.7 97.3 352.0 82.3 356.8 68.3 359.0 58.3 363.6 45.3 365.1 39.3 365.3 19.3 365.9 12.3M417.2 12.3 422.2 38.3 429.3 58.2 431.5 63.3 437.4 73.3 450.9 111.3 463.1 137.3 466.4 146.3M347.3 146.3 347.6 140.3 347.1 123.3 348.0 114.3 352.3 98.3 354.2 81.3 358.9 68.3 361.0 58.3 365.3 46.3 366.9 40.3 367.2 35.3 366.7 20.3 367.4 12.3M416.0 12.3 421.5 40.3 428.8 62.3 436.2 76.3 448.2 110.3 457.4 134.3 459.0 140.3 458.7 146.3M350.1 146.3 349.0 126.3 349.4 117.3 350.5 111.3 354.0 99.3 356.3 81.5 360.6 69.3 363.0 58.3 367.0 47.3 368.6 41.3 369.1 36.3 368.2 21.3 369.1 12.3M414.8 12.3 418.2 28.3 419.9 39.3 426.7 62.3 428.2 66.3 432.8 74.3 436.9 84.3 451.3 126.3 453.5 137.3 452.3 146.3M352.6 146.3 350.9 127.3 351.2 118.3 352.4 112.3 355.9 100.3 358.3 82.3 362.7 69.3 365.0 58.3 368.8 48.3 370.4 42.3 370.9 37.3 369.8 21.3 370.8 12.3M413.5 12.3 417.0 28.3 418.5 39.3 421.5 49.3 424.7 62.3 426.3 66.7 430.9 75.3 436.2 88.3 447.4 122.3 448.8 129.3 449.2 134.3 447.2 146.3M354.8 146.3 353.0 128.3 353.2 119.3 354.3 113.6 357.9 101.3 360.3 83.3 364.9 69.3 367.2 58.3 371.0 48.3 372.2 43.3 372.7 37.3 371.5 22.3 372.7 12.3M412.1 12.3 415.8 29.3 416.9 39.3 419.9 49.3 422.6 62.3 424.5 67.3 429.4 77.3 435.4 92.3 444.3 120.3 445.4 127.3 445.5 133.3 442.7 146.3M356.9 146.3 355.1 128.3 355.5 119.3 359.9 103.3 362.7 83.3 367.6 68.3 369.7 59.3 374.0 45.3 374.6 38.3 373.3 23.3 373.8 17.3 374.8 12.3M410.4 12.3 411.8 20.3 414.3 28.9 415.2 39.3 418.1 49.3 420.1 61.3 421.8 66.3 427.3 77.7 434.5 96.3 441.5 120.3 442.3 126.3 442.1 132.3 438.7 146.3M359.1 146.3 357.5 129.3 357.8 120.3 362.3 104.3 365.2 83.3 371.5 65.3 375.9 47.3 376.8 39.3 375.2 25.3 376.0 17.3 377.3 12.3M403.1 146.3 402.6 142.3 401.3 138.3 399.3 135.9 396.3 135.1 394.3 135.9 393.6 137.3 392.6 146.3M407.0 12.3 408.3 15.2 409.8 22.3 412.6 29.3 413.0 39.3 416.1 49.3 417.4 61.3 424.7 77.3 432.3 97.5 438.1 118.3 439.0 125.3 438.8 131.3 434.9 146.3M361.3 146.3 359.9 130.3 360.3 121.3 365.1 104.3 366.9 88.3 368.3 81.8 371.3 73.5 376.5 63.3 377.0 53.3 379.3 40.3 377.5 30.3 377.4 26.3 379.0 17.3 381.0 12.3M405.9 146.3 405.9 136.3 404.3 126.3 403.3 124.1 401.3 122.2 399.3 121.2 397.3 120.9 395.3 121.8 393.3 123.9 390.3 128.5 388.7 132.3 388.2 136.3 389.9 146.3M401.5 12.3 402.8 16.3 402.3 19.6 401.3 20.1 394.3 20.1 390.5 22.3 388.3 25.2 386.4 29.3 385.3 35.9 383.3 34.8 381.3 32.6 380.2 30.3 380.2 28.3 384.3 18.1 387.7 12.3M386.2 38.3 388.3 40.3 389.8 43.3 390.3 50.3 389.6 54.3 388.3 57.0 386.3 59.0 384.3 59.3 382.3 58.0 380.5 55.3 379.9 50.3 382.3 44.1 385.3 38.4M363.7 146.3 362.7 132.3 362.9 124.3 364.2 117.3 369.1 101.3 370.1 88.3 371.0 83.3 373.4 76.3 376.0 71.3 383.3 64.0 385.3 63.2 387.3 64.3 389.3 67.1 391.9 74.3 392.8 78.3 391.5 83.3 386.6 91.3 386.5 94.3 388.3 97.5 393.9 102.3 395.0 105.3 393.8 111.3 388.0 123.3 385.5 131.3 385.2 136.3 387.2 146.3M408.3 146.3 409.4 134.3 408.8 126.3 406.8 121.3 400.8 113.3 399.7 105.3 400.4 102.3 405.3 96.0 406.7 92.3 406.3 90.2 402.5 82.3 401.8 78.3 404.3 68.2 408.1 60.3 404.1 52.3 402.7 42.3 404.4 34.3 405.4 32.3 408.3 29.3 409.3 30.0 409.6 31.3 408.7 36.3 409.0 39.3 413.6 50.3 413.3 53.7 411.9 58.3 412.0 60.3 417.3 68.2 422.3 77.9 430.3 100.9 434.9 118.3 435.6 124.3 435.4 130.3 434.3 136.3 431.3 146.3M366.5 146.3 365.8 131.3 366.7 122.3 371.3 107.8 373.3 103.6 376.9 98.3 374.8 93.3 374.2 90.3 374.3 87.1 375.3 82.9 379.1 73.3 381.1 70.3 382.3 69.7 384.3 70.1 385.4 71.3 386.4 74.3 386.4 77.3 382.7 90.3 378.8 97.3 378.9 98.3 385.1 105.3 386.8 110.3 386.4 114.3 383.1 125.3 382.1 132.3 382.3 137.3 384.2 146.3M410.8 146.3 412.9 134.3 412.9 126.3 411.2 120.3 406.9 113.3 406.2 111.3 407.1 107.3 411.4 96.3 411.4 91.3 408.9 80.3 408.7 76.3 410.0 71.3 411.3 70.0 412.3 69.8 413.6 70.3 415.3 72.3 418.9 78.3 430.9 117.3 431.7 123.3 431.6 129.3 428.0 146.3M370.3 146.3 370.0 140.3 370.7 128.3 377.3 111.6 378.3 111.6 378.6 113.3 377.4 120.3 378.0 135.3 380.6 146.3M414.5 146.3 417.5 135.3 418.6 127.3 418.5 122.3 416.1 112.3 416.6 109.3 418.3 107.9 420.3 108.6 422.3 111.4 425.4 120.3 425.9 131.3 423.9 146.3" stroke="#201000" stroke-opacity=".45" stroke-width=".5" fill="none"/>
<path clip-path="url(#c1b)" d="M323.3 13.2 326.4 12.3M465.8 12.3 469.3 17.4M323.3 16.0 328.3 14.9 331.5 12.3M462.7 12.3 469.3 22.1M323.3 18.8 329.3 17.3 332.3 14.9 334.1 12.3M459.8 12.3 462.6 17.3 469.3 26.9M323.3 22.0 328.3 20.7 330.3 19.6 333.3 16.7 335.8 12.3M457.0 12.3 460.1 18.3 469.3 31.7M323.3 25.8 329.3 23.4 331.3 21.9 335.3 16.8 337.1 12.3M454.3 12.3 457.5 19.3 469.3 36.4M323.3 37.8 325.3 35.3 326.7 29.3 334.3 21.4 336.7 17.3 338.4 12.3M451.5 12.3 454.9 20.3 469.3 40.9M323.3 45.1 327.3 43.7 330.3 39.6 331.0 37.3 330.9 32.3 331.5 29.3 337.3 19.5 339.6 12.3M448.5 12.3 450.1 17.3 452.1 21.3 460.7 32.3 469.3 45.5M323.3 52.6 327.3 50.7 330.3 46.7 333.3 38.7 334.4 29.3 339.1 19.3 340.8 12.3M445.6 12.3 446.7 17.3 448.6 21.3 458.4 33.3 469.3 50.2M323.3 64.3 327.3 61.3 329.9 57.3 335.2 39.3 336.6 29.3 340.6 19.3 342.0 12.3M442.7 12.3 443.7 18.3 445.6 22.3 456.7 35.3 469.3 55.1M323.3 70.8 325.3 70.2 327.3 68.6 329.3 65.3 331.8 59.3 337.0 39.3 338.9 28.3 342.2 19.3 343.4 12.3M439.9 12.3 440.4 18.3 442.0 22.3 455.1 37.3 466.3 55.7 469.3 59.8M323.3 83.8 327.3 80.9 329.9 77.3 331.0 70.3 336.1 48.3 339.0 38.3 340.7 29.3 343.7 20.3 345.0 12.3M437.1 12.3 437.5 18.3 439.3 23.0 453.3 39.0 458.6 47.3 464.5 58.3 469.3 64.3M323.3 93.0 325.3 92.6 327.3 91.0 332.3 78.9 337.5 49.3 345.2 21.3 346.7 12.3M434.6 12.3 435.3 19.3 437.3 24.0 452.0 41.3 457.0 49.3 463.3 62.1 469.3 69.2M323.3 98.9 326.3 99.4 328.3 99.0 329.3 98.3 330.5 96.3 334.4 78.3 336.2 64.3 339.3 48.3 346.6 23.3 348.6 12.3M432.5 12.3 433.8 20.3 436.3 26.0 450.6 43.3 455.3 51.3 461.5 65.3 469.3 74.7M323.3 112.9 326.3 111.3 332.9 97.3 336.3 77.3 337.9 63.3 340.6 49.3 344.7 37.3 348.0 25.3 350.4 12.3M430.8 12.3 432.5 21.3 435.0 27.3 449.3 45.4 453.6 53.3 459.3 67.4 469.3 80.2M323.3 118.7 327.3 117.1 330.0 114.3 331.9 106.3 334.7 98.3 339.7 61.3 342.6 48.3 346.6 37.3 349.7 26.3 352.0 12.3M429.3 12.3 431.3 22.3 434.2 29.3 447.7 47.3 451.9 55.3 457.7 69.3 469.3 86.0M323.3 123.5 326.3 122.6 328.3 121.1 330.3 118.6 332.4 114.3 337.0 95.3 341.0 62.3 344.1 49.3 348.3 38.3 351.9 24.3 353.5 12.3M428.0 12.3 429.9 22.3 433.3 31.1 446.1 49.3 450.7 58.3 456.3 71.2 464.0 83.3 469.3 92.6M323.3 136.6 327.3 133.3 329.3 130.2 330.7 124.3 334.3 114.3 338.6 95.3 342.2 63.3 345.7 50.3 349.9 39.3 352.0 32.3 353.4 25.3 354.9 12.3M426.8 12.3 428.9 23.3 432.3 32.7 444.5 51.3 449.2 60.3 454.5 72.3 469.3 99.6M323.3 142.9 329.3 137.5 331.1 134.3 332.3 130.7 333.5 123.3 340.0 96.3 343.5 64.3 347.0 52.3 353.3 34.5 355.0 25.3 356.3 12.3M425.5 12.3 427.6 23.3 431.2 34.3 438.9 46.3 447.3 61.2 465.3 99.3 469.3 105.9M325.6 146.3 331.3 140.0 334.0 133.3 335.7 122.3 341.5 96.3 345.0 64.3 354.7 36.3 356.3 27.3 357.6 12.3M424.1 12.3 427.3 26.9 430.3 36.2 446.6 64.3 456.6 86.3 463.1 102.3 469.3 111.7M330.5 146.3 333.6 141.3 335.7 135.3 337.4 122.3 343.0 96.3 344.2 82.3 346.6 65.3 356.4 37.3 357.6 29.3 358.9 12.3M422.7 12.3 427.3 32.1 429.0 37.3 439.3 56.4 446.0 67.3 461.3 105.7 469.3 117.0M334.0 146.3 336.2 141.3 337.6 136.3 338.9 123.3 341.2 109.3 344.5 96.3 345.7 81.3 348.6 65.3 356.5 43.3 358.3 36.7 360.2 12.3M421.4 12.3 427.3 37.3 437.5 57.3 444.8 69.3 458.9 107.3 469.3 122.2M336.9 146.3 339.5 137.3 340.4 124.3 342.3 110.9 346.0 96.3 347.5 79.3 351.5 62.3 358.1 44.3 360.0 37.3 361.6 12.3M420.3 12.3 426.3 38.6 435.3 57.5 442.8 69.3 457.2 109.3 469.3 127.4M339.5 146.3 341.5 137.3 342.0 124.3 343.7 111.3 347.7 95.3 348.7 81.3 354.6 59.3 359.7 45.3 361.6 38.3 363.0 12.3M419.3 12.3 425.3 39.7 434.0 59.3 441.0 70.3 455.2 110.3 461.3 121.1 469.3 133.0M342.0 146.3 343.4 138.3 343.7 124.3 345.6 109.3 349.0 97.3 350.4 81.3 354.8 67.3 357.0 58.3 361.7 45.3 363.3 39.0 364.4 12.3M418.3 12.3 423.5 38.3 430.9 57.3 433.3 62.3 439.5 72.3 453.7 112.3 460.3 124.9 469.3 140.1M344.6 146.3 345.5 139.3 345.4 125.3 345.9 117.3 347.0 110.3 350.7 97.3 352.0 82.3 356.8 68.3 359.0 58.3 363.6 45.3 365.1 39.3 365.3 19.3 365.9 12.3M417.2 12.3 422.2 38.3 429.3 58.2 431.5 63.3 437.4 73.3 450.9 111.3 463.1 137.3 466.4 146.3M347.3 146.3 347.6 140.3 347.1 123.3 348.0 114.3 352.3 98.3 354.2 81.3 358.9 68.3 361.0 58.3 365.3 46.3 366.9 40.3 367.2 35.3 366.7 20.3 367.4 12.3M416.0 12.3 421.5 40.3 428.8 62.3 436.2 76.3 448.2 110.3 457.4 134.3 459.0 140.3 458.7 146.3M350.1 146.3 349.0 126.3 349.4 117.3 350.5 111.3 354.0 99.3 356.3 81.5 360.6 69.3 363.0 58.3 367.0 47.3 368.6 41.3 369.1 36.3 368.2 21.3 369.1 12.3M414.8 12.3 418.2 28.3 419.9 39.3 426.7 62.3 428.2 66.3 432.8 74.3 436.9 84.3 451.3 126.3 453.5 137.3 452.3 146.3M352.6 146.3 350.9 127.3 351.2 118.3 352.4 112.3 355.9 100.3 358.3 82.3 362.7 69.3 365.0 58.3 368.8 48.3 370.4 42.3 370.9 37.3 369.8 21.3 370.8 12.3M413.5 12.3 417.0 28.3 418.5 39.3 421.5 49.3 424.7 62.3 426.3 66.7 430.9 75.3 436.2 88.3 447.4 122.3 448.8 129.3 449.2 134.3 447.2 146.3M354.8 146.3 353.0 128.3 353.2 119.3 354.3 113.6 357.9 101.3 360.3 83.3 364.9 69.3 367.2 58.3 371.0 48.3 372.2 43.3 372.7 37.3 371.5 22.3 372.7 12.3M412.1 12.3 415.8 29.3 416.9 39.3 419.9 49.3 422.6 62.3 424.5 67.3 429.4 77.3 435.4 92.3 444.3 120.3 445.4 127.3 445.5 133.3 442.7 146.3M356.9 146.3 355.1 128.3 355.5 119.3 359.9 103.3 362.7 83.3 367.6 68.3 369.7 59.3 374.0 45.3 374.6 38.3 373.3 23.3 373.8 17.3 374.8 12.3M410.4 12.3 411.8 20.3 414.3 28.9 415.2 39.3 418.1 49.3 420.1 61.3 421.8 66.3 427.3 77.7 434.5 96.3 441.5 120.3 442.3 126.3 442.1 132.3 438.7 146.3M359.1 146.3 357.5 129.3 357.8 120.3 362.3 104.3 365.2 83.3 371.5 65.3 375.9 47.3 376.8 39.3 375.2 25.3 376.0 17.3 377.3 12.3M403.1 146.3 402.6 142.3 401.3 138.3 399.3 135.9 396.3 135.1 394.3 135.9 393.6 137.3 392.6 146.3M407.0 12.3 408.3 15.2 409.8 22.3 412.6 29.3 413.0 39.3 416.1 49.3 417.4 61.3 424.7 77.3 432.3 97.5 438.1 118.3 439.0 125.3 438.8 131.3 434.9 146.3M361.3 146.3 359.9 130.3 360.3 121.3 365.1 104.3 366.9 88.3 368.3 81.8 371.3 73.5 376.5 63.3 377.0 53.3 379.3 40.3 377.5 30.3 377.4 26.3 379.0 17.3 381.0 12.3M405.9 146.3 405.9 136.3 404.3 126.3 403.3 124.1 401.3 122.2 399.3 121.2 397.3 120.9 395.3 121.8 393.3 123.9 390.3 128.5 388.7 132.3 388.2 136.3 389.9 146.3M401.5 12.3 402.8 16.3 402.3 19.6 401.3 20.1 394.3 20.1 390.5 22.3 388.3 25.2 386.4 29.3 385.3 35.9 383.3 34.8 381.3 32.6 380.2 30.3 380.2 28.3 384.3 18.1 387.7 12.3M386.2 38.3 388.3 40.3 389.8 43.3 390.3 50.3 389.6 54.3 388.3 57.0 386.3 59.0 384.3 59.3 382.3 58.0 380.5 55.3 379.9 50.3 382.3 44.1 385.3 38.4M363.7 146.3 362.7 132.3 362.9 124.3 364.2 117.3 369.1 101.3 370.1 88.3 371.0 83.3 373.4 76.3 376.0 71.3 383.3 64.0 385.3 63.2 387.3 64.3 389.3 67.1 391.9 74.3 392.8 78.3 391.5 83.3 386.6 91.3 386.5 94.3 388.3 97.5 393.9 102.3 395.0 105.3 393.8 111.3 388.0 123.3 385.5 131.3 385.2 136.3 387.2 146.3M408.3 146.3 409.4 134.3 408.8 126.3 406.8 121.3 400.8 113.3 399.7 105.3 400.4 102.3 405.3 96.0 406.7 92.3 406.3 90.2 402.5 82.3 401.8 78.3 404.3 68.2 408.1 60.3 404.1 52.3 402.7 42.3 404.4 34.3 405.4 32.3 408.3 29.3 409.3 30.0 409.6 31.3 408.7 36.3 409.0 39.3 413.6 50.3 413.3 53.7 411.9 58.3 412.0 60.3 417.3 68.2 422.3 77.9 430.3 100.9 434.9 118.3 435.6 124.3 435.4 130.3 434.3 136.3 431.3 146.3M366.5 146.3 365.8 131.3 366.7 122.3 371.3 107.8 373.3 103.6 376.9 98.3 374.8 93.3 374.2 90.3 374.3 87.1 375.3 82.9 379.1 73.3 381.1 70.3 382.3 69.7 384.3 70.1 385.4 71.3 386.4 74.3 386.4 77.3 382.7 90.3 378.8 97.3 378.9 98.3 385.1 105.3 386.8 110.3 386.4 114.3 383.1 125.3 382.1 132.3 382.3 137.3 384.2 146.3M410.8 146.3 412.9 134.3 412.9 126.3 411.2 120.3 406.9 113.3 406.2 111.3 407.1 107.3 411.4 96.3 411.4 91.3 408.9 80.3 408.7 76.3 410.0 71.3 411.3 70.0 412.3 69.8 413.6 70.3 415.3 72.3 418.9 78.3 430.9 117.3 431.7 123.3 431.6 129.3 428.0 146.3M370.3 146.3 370.0 140.3 370.7 128.3 377.3 111.6 378.3 111.6 378.6 113.3 377.4 120.3 378.0 135.3 380.6 146.3M414.5 146.3 417.5 135.3 418.6 127.3 418.5 122.3 416.1 112.3 416.6 109.3 418.3 107.9 420.3 108.6 422.3 111.4 425.4 120.3 425.9 131.3 423.9 146.3" stroke="#001000" stroke-opacity=".8" stroke-width=".6" fill="none"/>
<path d="M378 146.5V87.3H414.5V146.5" stroke="#7a0a0a" stroke-width="1.5" stroke-dasharray="5 3" fill="none"/>
<rect x="323.3" y="12.3" width="146.0" height="134.5" stroke="#111" stroke-width="1" fill="none"/>
<path d="M323.2 146.8v4M332.4 146.8v2.1M341.5 146.8v4M350.6 146.8v2.1M359.8 146.8v4M368.9 146.8v2.1M378.0 146.8v4M387.1 146.8v2.1M396.2 146.8v4M405.4 146.8v2.1M414.5 146.8v4M423.6 146.8v2.1M432.8 146.8v4M441.9 146.8v2.1M451.0 146.8v4M460.1 146.8v2.1M469.2 146.8v4M323.3 27.1h-4.1M323.3 57.2h-4.1M323.3 87.2h-4.1M323.3 117.1h-4.1M323.3 146.8h-4.1M323.3 12.3h-2.1M323.3 42.3h-2.1M323.3 72.3h-2.1M323.3 102.3h-2.1M323.3 132.3h-2.1" stroke="#111" stroke-width="1.1" fill="none"/>
<g font-size="6.3"><text x="323.2" y="158.3" text-anchor="middle">-80</text><text x="341.5" y="158.3" text-anchor="middle">-60</text><text x="359.8" y="158.3" text-anchor="middle">-40</text><text x="378.0" y="158.3" text-anchor="middle">-20</text><text x="396.2" y="158.3" text-anchor="middle">0</text><text x="414.5" y="158.3" text-anchor="middle">20</text><text x="432.8" y="158.3" text-anchor="middle">40</text><text x="451.0" y="158.3" text-anchor="middle">60</text><text x="469.2" y="158.3" text-anchor="middle">80</text><text x="316.1" y="29.4" text-anchor="end">24</text><text x="316.1" y="59.5" text-anchor="end">22</text><text x="316.1" y="89.5" text-anchor="end">20</text><text x="316.1" y="119.4" text-anchor="end">18</text><text x="316.1" y="149.1" text-anchor="end">16</text></g>
<text transform="translate(302.6 79.0) rotate(-90)" font-size="6.9" text-anchor="middle">Altitude (km)</text>
<text x="333.4" y="7.7" font-size="9.3">(d)</text><text x="346.9" y="7.6" font-size="8.2" textLength="95.2" lengthAdjust="spacingAndGlyphs">1992 CFC-12 (ppt) Annual</text>
<g font-size="6.1" text-anchor="middle"><text x="330.0" y="25.1">205</text><text x="328.0" y="30.1">215</text><text x="339.0" y="30.1">253</text><text x="352.0" y="26.1">310</text><text x="331.0" y="39.9">224</text><text x="356.0" y="39.1">346</text><text x="371.0" y="39.1">425</text><text x="400.0" y="36.8">472</text><text x="330.0" y="49.9">234</text><text x="341.0" y="49.9">291</text><text x="356.0" y="52.1">367</text><text x="378.0" y="51.1">463</text><text x="330.0" y="59.1">243</text><text x="367.0" y="61.1">434</text><text x="334.0" y="69.9">272</text><text x="345.0" y="66.8">339</text><text x="357.0" y="69.9">396</text><text x="379.7" y="69.9">472</text><text x="330.0" y="79.2">262</text><text x="348.5" y="84.6">377</text><text x="363.0" y="84.6">444</text><text x="330.0" y="99.5">281</text><text x="352.3" y="100.2">405</text><text x="378.0" y="100.2">482</text><text x="345.4" y="111.8">386</text><text x="361.5" y="109.5">453</text><text x="330.0" y="116.2">300</text><text x="349.0" y="122.9">415</text><text x="338.5" y="128.7">358</text><text x="370.8" y="128.7">491</text><text x="330.0" y="131.2">320</text><text x="330.0" y="138.7">329</text><text x="400.0" y="111.2">472</text><text x="397.0" y="138.0">453</text><text x="403.5" y="126.4">463</text><text x="435.8" y="22.9">281</text><text x="446.5" y="25.9">253</text><text x="461.0" y="30.6">224</text><text x="458.8" y="35.9">243</text><text x="443.5" y="36.8">291</text><text x="425.8" y="39.5">377</text><text x="436.5" y="42.9">339</text><text x="458.8" y="45.1">262</text><text x="418.0" y="50.6">453</text><text x="448.0" y="49.9">310</text><text x="458.8" y="49.9">272</text><text x="429.6" y="55.9">396</text><text x="439.6" y="59.1">358</text><text x="451.0" y="61.4">320</text><text x="428.0" y="68.2">425</text><text x="440.4" y="71.0">386</text><text x="459.6" y="69.9">300</text><text x="418.8" y="80.2">482</text><text x="432.7" y="81.8">434</text><text x="455.0" y="84.9">348</text><text x="444.0" y="93.8">405</text><text x="432.7" y="101.0">463</text><text x="459.0" y="109.5">367</text><text x="425.8" y="121.8">491</text><text x="444.0" y="121.8">444</text><text x="459.0" y="141.8">415</text></g>
<rect x="485.3" y="12.6" width="18.0" height="133.2" stroke="#555" stroke-width="0.6" fill="none"/>
<path d="M503.3 24.0h3.8M503.3 41.5h3.8M503.3 59.1h3.8M503.3 76.7h3.8M503.3 94.2h3.8M503.3 111.8h3.8M503.3 129.3h3.8M503.3 146.9h3.8" stroke="#222" stroke-width="0.9" fill="none"/>
<g font-size="6.3"><text x="509.6" y="26.3">469</text><text x="509.6" y="43.8">419</text><text x="509.6" y="61.4">369</text><text x="509.6" y="79.0">319</text><text x="509.6" y="96.5">269</text><text x="509.6" y="114.0">219</text><text x="509.6" y="131.6">169</text><text x="509.6" y="149.2">119</text></g>
<clipPath id="c2"><rect x="322.9" y="179.3" width="146.7" height="134.1"/></clipPath>
<path clip-path="url(#c2)" d="M392.7 242.9 390.7 244.2 389.7 245.5 388.7 248.0 388.6 250.3 390.2 253.3 391.7 254.1 393.7 254.3 395.7 253.1 396.2 249.3 394.7 244.2 393.7 243.1M391.7 236.2 388.7 238.3 386.0 242.3 384.5 247.3 384.5 252.3 385.7 255.5 387.7 257.6 391.7 259.1 396.7 259.5 398.7 258.5 399.7 257.4 400.6 254.3 398.9 239.3 397.7 237.0 395.7 235.7 393.7 235.6M392.7 232.2 387.7 234.4 384.2 238.3 381.8 244.3 381.0 251.3 382.2 256.3 384.8 260.3 388.7 262.9 392.7 264.6 394.7 264.8 398.7 262.8 401.7 259.6 403.2 256.3 403.6 252.3 402.2 245.3 401.9 239.3 401.0 236.3 397.7 232.9 395.7 232.1M392.7 229.2 386.2 231.3 383.1 234.3 379.7 241.3 378.3 250.3 379.3 256.3 382.7 263.0 388.7 269.4 390.7 270.6 392.7 271.0 394.7 270.6 396.7 269.3 401.7 263.4 404.7 258.3 406.1 252.3 404.1 238.3 402.7 234.5 400.7 232.0 397.7 229.8 395.7 229.1M391.7 226.2 384.7 228.2 381.7 231.1 377.4 240.3 376.0 250.3 377.3 258.3 381.7 267.4 386.7 273.4 388.7 274.8 391.7 275.6 394.7 275.0 396.7 273.8 400.7 268.9 406.7 258.3 408.0 254.3 408.3 251.3 406.3 238.3 403.7 232.3 400.7 228.8 397.7 226.7 394.7 225.8M390.7 222.2 383.7 225.4 381.7 227.0 379.7 229.7 375.2 240.3 373.8 251.3 375.4 260.3 380.3 271.3 382.7 275.0 385.7 278.1 388.7 279.9 390.7 280.3 392.7 280.2 395.7 278.9 399.7 274.9 407.7 260.1 409.5 255.3 410.0 251.3 409.6 245.3 408.5 239.3 406.9 234.3 404.7 230.3 400.7 225.4 396.7 222.2 393.7 221.4M392.7 216.3 382.7 223.0 378.7 227.3 376.1 232.3 373.7 238.6 371.7 250.3 371.9 255.3 372.8 260.3 377.8 273.3 383.7 282.2 386.7 284.9 389.7 286.0 391.7 285.7 394.7 284.1 397.7 281.6 400.7 278.0 409.7 259.3 411.5 252.3 411.0 242.3 409.2 235.3 407.5 231.3 403.7 225.3 396.7 216.5 394.7 215.7M392.7 212.3 381.7 220.8 376.7 226.7 374.4 231.3 371.9 238.3 370.2 245.3 369.5 251.3 369.7 256.3 370.8 262.3 376.0 276.3 383.7 289.3 386.7 292.0 389.7 292.8 391.7 292.3 394.7 290.0 402.7 279.1 411.2 259.3 412.8 252.3 412.7 242.3 410.6 234.3 409.1 230.3 398.7 213.5 395.7 211.7M392.7 209.0 388.7 211.6 380.7 218.7 375.3 225.3 372.7 230.3 368.1 245.3 367.1 252.3 367.3 257.3 368.4 263.3 373.8 278.3 381.7 293.9 385.7 298.0 389.7 299.8 392.7 299.2 395.7 296.5 405.7 278.0 413.2 257.3 414.2 246.3 414.0 242.3 411.7 231.8 406.0 220.3 399.5 210.3 396.7 208.7M331.7 281.1 328.7 282.8 326.7 285.0 325.1 288.3 324.5 291.3 325.1 295.3 327.6 302.3 329.7 305.9 331.7 307.8 332.7 307.6 334.7 304.7 336.1 301.3 336.7 298.3 335.6 289.3 335.8 282.3 334.7 281.0M394.7 205.1 391.7 206.2 387.7 209.1 378.0 218.3 374.1 223.3 369.9 232.3 365.7 246.3 364.5 253.3 365.1 261.3 366.9 268.3 370.5 277.3 375.8 287.3 378.5 294.3 384.7 302.0 387.7 303.9 390.7 304.7 394.7 303.6 398.2 300.3 402.3 289.3 407.7 278.5 414.2 258.3 415.4 246.3 415.2 242.3 413.2 230.3 408.7 220.5 401.7 208.0 398.7 205.7M339.9 313.3 341.8 300.3 343.1 281.3 342.9 277.3 341.8 273.3 340.0 271.3 337.7 270.8 322.7 271.6M394.7 201.3 391.7 202.6 387.7 205.6 376.7 216.6 372.3 222.3 368.2 231.3 362.5 248.3 361.2 255.3 361.6 262.3 362.7 266.3 368.0 278.3 373.7 287.7 377.3 296.3 381.7 302.5 384.7 305.6 388.7 308.0 391.7 308.6 394.7 307.8 397.0 306.3 399.7 303.6 401.6 300.3 404.4 290.3 410.0 278.3 412.1 269.3 414.5 262.3 415.9 255.3 416.5 246.3 414.7 229.3 405.7 207.7 403.7 204.7 400.7 202.3 397.7 201.2M343.9 313.3 348.1 276.3 349.1 272.3 352.4 265.3 352.1 262.3 349.7 260.2 345.7 259.6 342.7 260.3 332.7 264.4 322.7 264.1M347.1 313.3 348.6 298.3 353.1 275.3 355.0 271.3 357.7 269.6 359.6 270.3 360.7 271.3 364.5 278.3 371.7 287.9 375.2 296.3 377.7 300.5 381.7 306.1 385.7 309.8 389.7 312.1 391.7 312.5 393.7 312.1 398.7 308.9 402.7 304.0 404.3 300.3 407.0 289.3 412.2 278.3 413.5 270.3 416.3 261.3 417.5 248.3 417.6 243.3 416.1 228.3 408.7 205.0 407.1 202.3 404.8 200.3 401.0 198.3 397.7 197.4 394.7 197.6 392.7 198.3 387.7 201.9 374.1 216.3 371.1 220.3 367.0 228.3 364.1 237.3 358.7 249.6 356.7 252.9 355.1 254.3 352.7 255.0 343.7 255.0 331.7 257.2 322.7 256.9M350.1 313.3 351.2 300.3 353.7 289.8 356.7 283.0 357.7 281.9 359.7 281.1 363.7 282.7 369.0 287.3 376.7 302.6 384.4 313.3M399.4 313.3 403.7 307.6 405.9 303.3 408.7 290.3 414.1 279.3 415.3 270.3 417.9 261.3 418.8 245.3 417.7 228.7 413.8 212.3 412.3 203.3 411.6 201.3 409.7 199.0 402.7 195.2 397.7 193.7 393.7 194.1 388.7 197.0 369.8 218.3 364.9 227.3 356.7 245.5 353.7 249.0 350.7 249.9 343.7 249.9 333.7 251.2 322.7 250.7M352.9 313.3 353.8 302.3 356.2 292.3 358.7 287.8 360.7 286.4 362.7 286.2 365.7 287.1 368.7 290.1 373.7 301.2 380.3 313.3M404.1 313.3 408.4 304.3 410.6 290.3 416.6 279.3 417.7 270.8 419.8 263.3 420.0 245.3 419.2 237.3 418.9 226.3 415.5 202.3 414.5 199.3 411.9 196.3 398.7 189.5 395.7 189.2 391.7 190.6 385.7 195.6 377.6 206.3 369.3 215.3 360.7 229.5 351.7 242.5 349.7 243.6 334.7 245.5 322.7 245.0M355.9 313.3 356.7 303.3 358.7 295.3 360.7 291.3 361.8 290.3 363.7 289.7 365.7 290.2 367.4 292.3 376.9 313.3M408.3 313.3 411.9 303.3 412.3 291.3 413.7 288.4 419.2 280.3 423.0 266.3 421.1 253.3 421.4 245.3 420.6 237.3 420.5 222.3 419.0 204.3 417.5 198.3 415.7 195.3 413.7 193.4 405.0 188.3 399.7 182.0 397.7 181.4 395.7 181.9 390.7 185.7 384.7 191.9 376.7 204.1 367.7 214.0 361.7 223.5 357.7 227.8 352.7 230.6 346.7 231.8 341.6 236.3 336.7 238.7 330.7 239.7 322.7 239.2M389.4 179.3 380.7 192.2 375.4 202.3 366.6 212.3 360.7 221.0 358.5 223.3 353.7 225.8 346.7 226.0 343.7 226.7 336.7 231.6 332.7 233.6 328.7 234.2 322.7 233.7M359.4 313.3 359.7 307.2 360.9 301.3 362.7 297.6 364.7 296.7 366.7 298.3 368.7 301.2 373.2 313.3M413.1 313.3 415.4 307.3 416.0 304.3 415.9 301.3 414.5 294.3 414.8 291.3 416.0 289.3 421.0 284.3 423.8 280.3 427.8 271.3 428.7 266.3 428.1 263.3 423.8 255.3 423.1 252.3 423.1 245.3 422.2 237.3 423.2 216.3 422.7 206.3 421.8 200.3 420.5 196.3 418.1 192.3 415.7 189.8 409.6 185.3 408.7 183.3 408.4 179.3M384.5 179.3 378.0 191.3 373.5 201.3 364.8 211.3 357.7 220.6 353.7 222.4 342.7 223.1 330.7 227.8 327.7 228.1 322.7 227.7M469.7 217.1 464.7 217.5 461.5 219.3 460.8 221.3 461.6 228.3 460.6 232.3 457.0 238.3 451.9 243.3 445.7 247.1 436.7 249.7 431.7 252.0 429.7 252.3 427.7 251.5 426.7 250.1 425.9 247.3 424.6 237.3 425.1 227.3 428.1 215.3 427.8 209.3 424.2 193.3 422.0 189.3 416.6 182.3 415.4 179.3M423.8 313.3 426.6 305.3 427.3 301.3 426.4 299.3 422.0 295.3 421.3 293.3 428.7 285.6 436.9 273.3 441.7 269.5 454.7 264.1 459.7 262.6 469.7 261.2M380.4 179.3 371.7 200.1 356.7 217.6 353.7 219.0 342.7 219.1 330.7 221.4 322.7 220.1M455.1 179.3 451.5 190.3 447.8 198.3 443.7 202.6 439.7 203.8 436.7 203.1 433.8 200.3 432.5 192.3 431.4 189.3 424.9 179.3M432.4 230.3 434.7 229.9 436.6 230.3 439.6 232.3 440.3 235.3 438.9 237.3 434.7 239.6 431.7 239.2 430.6 237.3 430.3 234.3 430.7 232.3M440.9 313.3 440.9 299.3 441.4 294.3 443.6 287.3 446.7 281.9 448.7 280.5 451.7 279.9 469.7 279.7M376.8 179.3 371.5 195.3 369.7 199.1 358.7 211.6 355.7 214.0 351.7 215.0 341.7 214.0 331.7 214.5 328.7 213.0 322.7 207.9M450.1 313.3 449.6 307.3 449.9 304.3 451.0 301.3 452.7 299.2 455.7 297.5 462.7 297.0 469.7 294.5M373.3 179.3 369.2 194.3 367.7 197.6 357.7 207.9 355.7 209.3 353.7 209.9 350.7 209.4 348.5 208.3 342.7 202.6 336.7 201.2 333.7 199.8 330.1 196.3 328.7 193.3 328.4 189.3 329.4 185.3 332.4 179.3M463.2 313.3 463.8 311.3 464.9 310.3 469.7 309.0M368.9 179.3 365.2 195.3 361.7 198.7 357.7 201.1 355.7 201.7 354.3 201.3 352.7 199.8 345.2 189.3 345.1 186.3 347.5 179.3" stroke="#001000" stroke-opacity=".7" stroke-width=".55" fill="none"/>

<rect x="322.9" y="179.3" width="146.7" height="134.1" stroke="#111" stroke-width="1" fill="none"/>
<path d="M329.6 313.4v4M337.9 313.4v2.1M346.3 313.4v4M354.6 313.4v2.1M362.9 313.4v4M371.3 313.4v2.1M379.6 313.4v4M388.0 313.4v2.1M396.3 313.4v4M404.6 313.4v2.1M413.0 313.4v4M421.3 313.4v2.1M429.7 313.4v4M438.0 313.4v2.1M446.3 313.4v4M454.7 313.4v2.1M463.0 313.4v4M322.9 179.3h-4.1M322.9 224.2h-4.1M322.9 269.0h-4.1M322.9 313.4h-4.1M322.9 201.7h-2.1M322.9 246.6h-2.1M322.9 291.2h-2.1" stroke="#111" stroke-width="1.1" fill="none"/>
<g font-size="6.3"><text x="329.6" y="324.9" text-anchor="middle">-80</text><text x="346.3" y="324.9" text-anchor="middle">-60</text><text x="362.9" y="324.9" text-anchor="middle">-40</text><text x="379.6" y="324.9" text-anchor="middle">-20</text><text x="396.3" y="324.9" text-anchor="middle">0</text><text x="413.0" y="324.9" text-anchor="middle">20</text><text x="429.7" y="324.9" text-anchor="middle">40</text><text x="446.3" y="324.9" text-anchor="middle">60</text><text x="463.0" y="324.9" text-anchor="middle">80</text><text x="315.7" y="181.6" text-anchor="end">25</text><text x="315.7" y="226.5" text-anchor="end">20</text><text x="315.7" y="271.3" text-anchor="end">15</text><text x="315.7" y="315.7" text-anchor="end">10</text></g>
<text transform="translate(302.6 247.3) rotate(-90)" font-size="6.9" text-anchor="middle">Altitude (km)</text>
<text x="304.6" y="173.6" font-size="9.1">(e)</text><text x="317.8" y="173.5" font-size="8.25" xml:space="preserve">1990s minus 1960s O<tspan font-size="5.8" dy="1.8">3</tspan><tspan dy="-1.8"> Change (%) Annual</tspan></text>
<g font-size="6.1" text-anchor="middle"><text x="335.8" y="189.8">4</text><text x="356.5" y="206.2">4</text><text x="356.5" y="212.6">0</text><text x="332.0" y="217.5">-4</text><text x="356.5" y="221.8">-9</text><text x="382.7" y="212.8">-38</text><text x="345.8" y="230.7">-21</text><text x="365.0" y="239.5">-34</text><text x="390.0" y="230.2">-64</text><text x="353.0" y="248.2">-26</text><text x="385.0" y="248.2">-77</text><text x="369.6" y="257.6">-51</text><text x="332.0" y="267.1">-38</text><text x="348.0" y="266.1">-43</text><text x="392.0" y="264.8">-72</text><text x="358.0" y="275.1">-30</text><text x="378.0" y="276.6">-55</text><text x="330.4" y="284.1">-47</text><text x="350.4" y="293.1">-34</text><text x="365.8" y="293.1">-17</text><text x="367.3" y="304.1">-13</text><text x="365.0" y="307.9">-13</text><text x="407.0" y="188.6">-17</text><text x="430.0" y="203.2">-9</text><text x="404.0" y="215.8">-43</text><text x="426.3" y="221.7">-13</text><text x="460.6" y="221.7">-13</text><text x="409.6" y="230.2">-47</text><text x="428.0" y="236.8">-9</text><text x="444.8" y="239.2">-9</text><text x="404.0" y="248.2">-68</text><text x="418.6" y="248.2">-30</text><text x="440.7" y="260.1">-17</text><text x="423.5" y="270.1">-21</text><text x="445.6" y="279.3">-9</text><text x="398.0" y="279.6">-60</text><text x="415.3" y="293.8">-13</text><text x="428.4" y="301.9">-13</text><text x="462.0" y="301.9">-4</text><text x="457.0" y="307.1">0</text></g>
<rect x="485.3" y="179.6" width="18.3" height="133.0" stroke="#555" stroke-width="0.6" fill="none"/>
<path d="M503.6 180.0h3.8M503.6 187.8h3.8M503.6 195.6h3.8M503.6 203.3h3.8M503.6 211.1h3.8M503.6 218.9h3.8M503.6 226.7h3.8M503.6 234.4h3.8M503.6 242.2h3.8M503.6 250.0h3.8M503.6 257.8h3.8M503.6 265.5h3.8M503.6 273.3h3.8M503.6 281.1h3.8M503.6 288.9h3.8M503.6 296.6h3.8M503.6 304.4h3.8M503.6 312.2h3.8" stroke="#222" stroke-width="0.9" fill="none"/>
<g font-size="6.3"><text x="509.9" y="182.3">85</text><text x="509.9" y="190.1">75</text><text x="509.9" y="197.9">65</text><text x="509.9" y="205.6">55</text><text x="509.9" y="213.4">45</text><text x="509.9" y="221.2">35</text><text x="509.9" y="229.0">25</text><text x="509.9" y="236.7">15</text><text x="509.9" y="244.5">5</text><text x="509.9" y="252.3">-5</text><text x="509.9" y="260.1">-15</text><text x="509.9" y="267.8">-25</text><text x="509.9" y="275.6">-35</text><text x="509.9" y="283.4">-45</text><text x="509.9" y="291.2">-55</text><text x="509.9" y="298.9">-65</text><text x="509.9" y="306.7">-75</text><text x="509.9" y="314.5">-85</text></g>
<clipPath id="c3"><rect x="323.0" y="346.4" width="146.5" height="132.9"/></clipPath>
<path clip-path="url(#c3)" d="M393.0 437.2 384.8 440.5 384.6 441.5 385.7 442.5 393.5 444.5 399.0 444.9 406.0 443.8 408.0 442.8 408.9 441.5 408.4 439.5 406.2 438.5 398.0 436.8M394.0 434.4 385.0 436.9 381.2 439.5 380.5 441.5 380.8 442.5 382.9 444.5 385.0 445.4 397.0 446.8 406.0 446.4 408.9 445.5 412.0 442.8 414.0 442.4 415.1 441.5 415.0 439.5 414.2 438.5 410.0 436.5 398.0 434.6M391.0 432.4 384.0 434.8 379.8 437.5 377.9 439.5 377.4 441.5 378.2 443.5 380.4 445.5 383.0 446.8 390.0 448.1 407.0 448.1 414.2 445.5 416.0 444.2 417.2 442.5 417.6 439.5 416.8 437.5 415.0 435.8 412.0 434.4 395.0 432.2M388.0 430.4 384.0 432.1 378.0 436.3 375.3 439.5 375.0 441.5 376.3 444.5 378.5 446.5 382.0 448.4 389.0 449.8 398.0 449.4 408.0 449.7 415.2 447.5 417.9 445.5 419.2 443.5 419.9 439.5 419.0 436.5 417.0 434.4 413.0 432.1 409.0 431.0 402.0 431.1 394.0 429.8M390.0 427.4 386.0 428.3 383.0 429.7 375.6 435.5 373.3 438.5 372.8 441.5 374.0 444.5 376.0 446.8 379.0 448.8 383.0 450.6 387.0 451.4 398.0 450.8 408.0 451.3 413.0 450.4 417.0 448.9 419.0 447.5 421.3 444.5 422.6 440.5 422.0 436.5 419.8 433.5 415.0 430.1 412.0 428.7 409.0 428.2 403.0 428.4 396.0 427.3M387.0 425.3 384.0 426.3 381.0 428.0 373.2 434.5 371.2 437.5 370.7 441.5 371.7 444.5 374.1 447.5 378.0 450.3 383.0 452.4 387.0 453.1 397.0 452.5 404.0 452.9 410.0 452.6 415.0 451.8 418.4 450.5 421.2 448.5 423.5 445.5 425.2 440.5 424.5 435.5 421.0 431.1 415.0 426.8 412.0 425.5 409.0 424.9 403.0 425.2 393.0 424.7M388.0 422.4 384.0 423.4 380.0 425.4 371.2 432.5 369.6 434.5 368.5 438.5 369.1 443.5 371.0 447.0 375.0 450.5 380.0 453.2 385.0 454.6 408.0 454.3 415.0 453.7 419.0 452.6 422.4 450.5 425.0 447.6 426.5 444.5 427.3 441.5 427.0 435.1 424.2 430.5 418.0 425.1 414.0 422.9 410.0 421.9M323.0 449.5 326.0 447.5 328.8 444.5 330.5 441.5 331.0 438.5 330.2 434.5 328.5 430.5 326.0 427.1 323.0 424.5M390.0 419.4 385.0 420.2 381.0 421.4 377.3 423.5 372.0 427.8 368.7 428.5 367.3 429.5 366.1 434.5 366.5 442.5 367.9 446.5 370.5 449.5 375.0 452.7 378.5 454.5 383.0 455.9 387.0 456.3 417.0 455.2 422.0 453.7 426.1 450.5 428.0 447.5 429.0 444.5 429.8 438.5 429.6 434.5 427.3 429.5 421.5 423.5 417.0 420.6 412.0 419.1M323.0 461.6 328.0 461.3 330.0 460.5 330.8 459.5 333.5 451.5 337.2 443.5 338.1 439.5 336.2 431.5 332.0 422.2 328.0 416.8 323.0 413.9M388.0 416.5 380.0 418.0 372.0 421.2 364.9 423.5 362.8 425.5 361.7 428.5 362.0 433.5 364.2 445.5 365.6 448.5 367.0 450.0 376.0 455.5 381.0 457.1 386.0 457.8 419.0 457.0 424.8 455.5 428.8 452.5 430.6 449.5 431.6 446.5 432.6 433.5 430.6 427.5 425.0 420.9 420.0 417.6 414.0 415.9 407.0 415.6M323.0 467.6 332.0 466.6 335.0 465.3 337.0 463.5 338.1 460.5 338.8 453.5 342.1 444.5 342.7 438.5 342.0 432.5 340.3 425.5 335.6 413.5 333.4 410.5 331.0 408.6 328.0 407.4 323.0 406.5M469.0 409.2 465.0 411.0 463.0 412.6 461.2 415.5 460.8 418.5 461.3 421.5 462.8 424.5 465.3 427.5 469.0 430.4M389.0 412.4 378.0 413.7 364.0 416.6 359.1 418.5 355.3 421.5 353.7 424.5 353.5 427.5 358.6 440.5 358.6 444.5 357.1 450.5 357.7 451.5 375.2 457.5 385.0 459.1 409.0 458.7 423.0 459.1 428.0 458.3 432.0 456.4 434.2 453.5 435.5 449.5 436.9 431.5 435.7 424.5 434.2 421.5 431.9 418.5 426.0 414.4 418.0 412.0 407.0 411.7M323.0 472.2 336.0 470.0 342.6 467.5 344.5 464.5 345.9 458.5 348.7 452.5 349.2 449.5 348.2 440.5 348.9 431.5 348.7 423.5 343.4 411.5 340.7 407.5 336.0 404.0 331.0 402.2 323.0 401.3M469.0 395.6 463.0 397.6 451.0 400.0 438.0 404.8 433.0 405.7 367.0 408.1 362.0 407.8 357.0 406.6 344.6 400.5 338.0 398.1 332.0 397.2 323.0 396.9M323.0 475.9 343.6 471.5 346.0 470.2 353.0 464.1 366.0 459.2 386.0 460.5 410.0 460.2 433.0 463.4 438.8 462.5 442.4 460.5 444.4 457.5 445.3 450.5 443.5 442.5 443.5 439.5 444.3 436.5 446.0 433.0 449.0 430.7 452.0 431.1 456.0 433.4 463.8 440.5 469.0 446.1M469.0 386.1 458.0 389.5 442.0 392.0 431.0 396.1 424.0 398.1 411.0 400.3 401.0 401.2 387.0 401.4 368.0 400.1 361.0 398.7 349.0 394.5 343.0 393.1 335.0 392.4 323.0 392.7M323.0 479.2 342.6 474.5 347.0 472.5 354.0 467.8 364.0 463.7 369.0 462.3 375.0 461.7 405.0 461.4 412.0 461.8 422.0 463.8 431.0 467.3 445.0 468.9 454.5 472.5 469.0 473.2M469.0 379.5 457.0 383.5 442.0 385.6 423.0 391.1 399.0 395.3 389.0 395.1 366.0 392.8 361.0 391.7 351.0 388.2 346.0 387.2 338.0 387.1 323.0 387.9M333.8 479.5 344.0 476.3 356.0 469.4 368.0 465.0 378.0 463.3 402.0 462.6 410.0 463.0 418.0 464.5 423.0 466.2 429.0 469.3 442.0 472.1 453.0 476.8 469.0 479.3M469.0 373.4 455.0 378.4 441.0 380.2 426.0 384.3 412.0 386.2 398.0 389.2 366.0 386.9 362.0 385.7 354.0 381.8 350.0 380.9 323.0 382.0M341.3 479.5 347.0 477.0 357.0 471.1 367.0 467.3 378.0 464.8 397.0 463.6 408.0 464.1 418.0 466.1 422.0 467.5 428.0 470.8 438.0 473.3 452.4 479.5M469.0 367.7 456.0 372.5 440.0 375.1 427.0 378.8 410.0 380.0 397.0 382.6 382.0 381.2 368.0 380.6 365.0 379.9 356.5 375.5 353.0 374.4 349.0 374.5 335.0 376.2 323.0 376.0M346.0 479.5 358.0 472.5 367.0 469.0 379.0 466.1 397.0 464.6 408.0 465.3 418.0 467.5 428.0 472.3 437.0 474.7 446.9 479.5M469.0 361.9 456.0 366.9 440.0 369.8 426.0 373.8 412.0 374.7 398.0 376.8 370.0 374.4 357.0 370.4 352.0 369.5 334.0 371.2 323.0 370.8M349.6 479.5 359.0 473.8 368.0 470.2 379.0 467.4 397.0 465.5 407.0 466.3 418.0 468.8 428.0 473.3 435.0 475.4 442.9 479.5M469.0 356.1 459.0 360.6 452.0 362.8 441.0 364.5 424.0 368.5 399.0 372.1 393.0 371.9 382.0 370.1 369.0 368.9 352.0 365.4 346.0 365.4 333.0 366.8 323.0 366.1M352.7 479.5 360.9 474.5 370.0 471.0 379.0 468.6 389.0 467.8 397.0 466.5 407.0 467.5 418.0 470.1 432.1 475.5 439.7 479.5M469.0 350.0 451.0 358.2 415.0 364.7 400.0 368.0 393.0 367.8 382.0 365.6 367.0 364.1 351.0 361.2 345.0 361.3 333.0 362.9 323.0 361.9M355.5 479.5 364.0 474.6 374.0 471.0 380.0 469.6 389.0 469.0 397.0 467.4 406.0 468.4 418.0 471.2 429.6 475.5 437.0 479.5M463.6 346.5 451.0 352.8 447.0 354.3 414.0 360.4 400.0 364.2 393.0 364.0 382.0 361.7 365.0 359.6 351.0 356.9 345.0 357.2 333.0 359.4 329.0 359.4 323.0 358.4M358.3 479.5 366.0 475.2 375.0 472.0 381.0 470.6 389.0 470.1 397.0 468.5 406.0 469.5 418.0 472.3 428.0 475.8 434.6 479.5M451.3 346.5 445.8 349.5 439.0 351.8 412.0 356.8 403.0 360.1 399.0 360.8 394.0 360.4 381.0 357.7 366.7 355.5 352.0 352.2 345.0 352.7 333.0 356.2 329.0 356.2 323.0 355.1M361.0 479.5 369.0 475.3 377.0 472.6 383.0 471.4 389.0 471.2 398.0 469.5 406.0 470.5 418.0 473.4 428.0 476.9 432.4 479.5M441.2 346.5 433.0 349.5 412.0 353.3 399.0 357.0 394.0 356.5 368.0 351.1 358.0 348.0 352.0 347.1 344.0 348.0 335.0 352.3 332.0 353.1 328.0 352.9 323.0 351.7M363.8 479.5 371.0 475.8 378.0 473.5 383.0 472.4 390.0 472.1 398.0 470.6 405.0 471.4 418.0 474.5 427.0 477.7 430.3 479.5M335.8 346.5 333.0 348.7 331.0 349.4 323.0 347.6M429.3 346.5 399.0 352.6 386.2 350.5 370.5 346.5M366.5 479.5 372.5 476.5 380.0 474.1 398.0 471.7 405.0 472.5 417.0 475.3 428.0 479.5M411.3 346.5 400.0 348.0 389.3 346.5M369.3 479.5 375.0 476.9 382.0 474.8 398.0 472.8 408.0 474.2 418.0 476.8 425.2 479.5M372.2 479.5 383.0 475.7 398.0 474.0 408.0 475.3 422.1 479.5M375.4 479.5 384.0 476.7 398.0 475.1 407.0 476.3 418.6 479.5M378.9 479.5 385.0 477.7 398.0 476.4 405.0 477.1 414.6 479.5M383.2 479.5 398.0 477.6 403.0 478.1 409.8 479.5M391.6 479.5 398.0 479.0 403.6 479.5" stroke="#001000" stroke-opacity=".7" stroke-width=".55" fill="none"/>
<rect x="323" y="477.3" width="146.5" height="2.2" fill="#7a0000"/><rect x="323" y="476.4" width="146.5" height="1" fill="#c03000" opacity=".6"/>
<rect x="323.0" y="346.4" width="146.5" height="132.9" stroke="#111" stroke-width="1" fill="none"/>
<path d="M329.6 479.3v4M337.9 479.3v2.1M346.3 479.3v4M354.6 479.3v2.1M362.9 479.3v4M371.3 479.3v2.1M379.6 479.3v4M388.0 479.3v2.1M396.3 479.3v4M404.6 479.3v2.1M413.0 479.3v4M421.3 479.3v2.1M429.7 479.3v4M438.0 479.3v2.1M446.3 479.3v4M454.7 479.3v2.1M463.0 479.3v4M323.0 346.4h-4.1M323.0 387.2h-4.1M323.0 428.2h-4.1M323.0 469.3h-4.1M323.0 366.9h-2.1M323.0 407.9h-2.1M323.0 448.9h-2.1" stroke="#111" stroke-width="1.1" fill="none"/>
<g font-size="6.3"><text x="329.6" y="490.8" text-anchor="middle">-80</text><text x="346.3" y="490.8" text-anchor="middle">-60</text><text x="362.9" y="490.8" text-anchor="middle">-40</text><text x="379.6" y="490.8" text-anchor="middle">-20</text><text x="396.3" y="490.8" text-anchor="middle">0</text><text x="413.0" y="490.8" text-anchor="middle">20</text><text x="429.7" y="490.8" text-anchor="middle">40</text><text x="446.3" y="490.8" text-anchor="middle">60</text><text x="463.0" y="490.8" text-anchor="middle">80</text><text x="315.8" y="348.7" text-anchor="end">40</text><text x="315.8" y="389.5" text-anchor="end">30</text><text x="315.8" y="430.5" text-anchor="end">20</text><text x="315.8" y="471.6" text-anchor="end">10</text></g>
<text transform="translate(302.6 414.3) rotate(-90)" font-size="6.9" text-anchor="middle">Altitude (km)</text>
<g font-size="8.7"><text x="312.2" y="342.1" font-size="9.2">(f)</text><text x="324.5" y="342.1" textLength="58.9" lengthAdjust="spacingAndGlyphs">Temperature (K)</text><text x="392.5" y="342.1" textLength="77.5" lengthAdjust="spacingAndGlyphs">2002-2010 ROM SAF</text></g>
<g font-size="6.1" text-anchor="middle"><text x="332.0" y="352.1">249</text><text x="344.0" y="349.5">247</text><text x="365.8" y="352.1">247</text><text x="392.0" y="349.1">252</text><text x="382.0" y="368.6">238</text><text x="354.0" y="375.6">231</text><text x="370.7" y="395.6">225</text><text x="352.0" y="405.1">220</text><text x="331.0" y="411.6">214</text><text x="431.7" y="348.6">249</text><text x="462.0" y="350.1">241</text><text x="411.0" y="359.1">244</text><text x="444.4" y="365.8">236</text><text x="425.6" y="376.4">233</text><text x="398.0" y="390.8">228</text><text x="442.3" y="395.1">222</text><text x="348.8" y="429.9">217</text><text x="367.3" y="429.9">212</text><text x="381.7" y="432.1">204</text><text x="331.0" y="438.3">209</text><text x="378.3" y="445.6">198</text><text x="357.2" y="453.1">217</text><text x="395.0" y="456.4">209</text><text x="331.0" y="463.6">212</text><text x="381.7" y="463.6">222</text><text x="389.3" y="473.3">244</text><text x="415.3" y="418.6">214</text><text x="460.8" y="420.9">217</text><text x="402.6" y="433.1">201</text><text x="424.6" y="438.3">206</text><text x="412.0" y="443.9">195</text><text x="390.0" y="441.8">192</text><text x="447.0" y="448.4">220</text><text x="428.0" y="465.1">220</text><text x="403.0" y="467.1">231</text><text x="412.8" y="473.1">241</text><text x="428.0" y="475.4">233</text><text x="348.0" y="479.1">225</text><text x="364.6" y="479.1">239</text><text x="375.4" y="479.1">242</text><text x="384.6" y="479.1">247</text><text x="402.5" y="479.4">255</text><text x="420.0" y="479.1">247</text><text x="434.5" y="479.4">236</text><text x="446.0" y="479.4">228</text></g>
<rect x="485.2" y="346.8" width="18.4" height="133.2" stroke="#555" stroke-width="0.6" fill="none"/>
<path d="M503.6 356.8h3.8M503.6 369.1h3.8M503.6 381.4h3.8M503.6 393.8h3.8M503.6 406.1h3.8M503.6 418.4h3.8M503.6 430.7h3.8M503.6 443.0h3.8M503.6 455.4h3.8M503.6 467.7h3.8M503.6 480.0h3.8" stroke="#222" stroke-width="0.9" fill="none"/>
<g font-size="6.3"><text x="509.9" y="359.1">290</text><text x="509.9" y="371.4">280</text><text x="509.9" y="383.7">270</text><text x="509.9" y="396.1">260</text><text x="509.9" y="408.4">250</text><text x="509.9" y="420.7">240</text><text x="509.9" y="433.0">230</text><text x="509.9" y="445.3">220</text><text x="509.9" y="457.7">210</text><text x="509.9" y="470.0">200</text><text x="509.9" y="482.3">190</text></g>
<text x="396.9" y="502.7" font-size="7.2" text-anchor="middle">Latitude (deg)</text>
</svg>
</div></body></html>
